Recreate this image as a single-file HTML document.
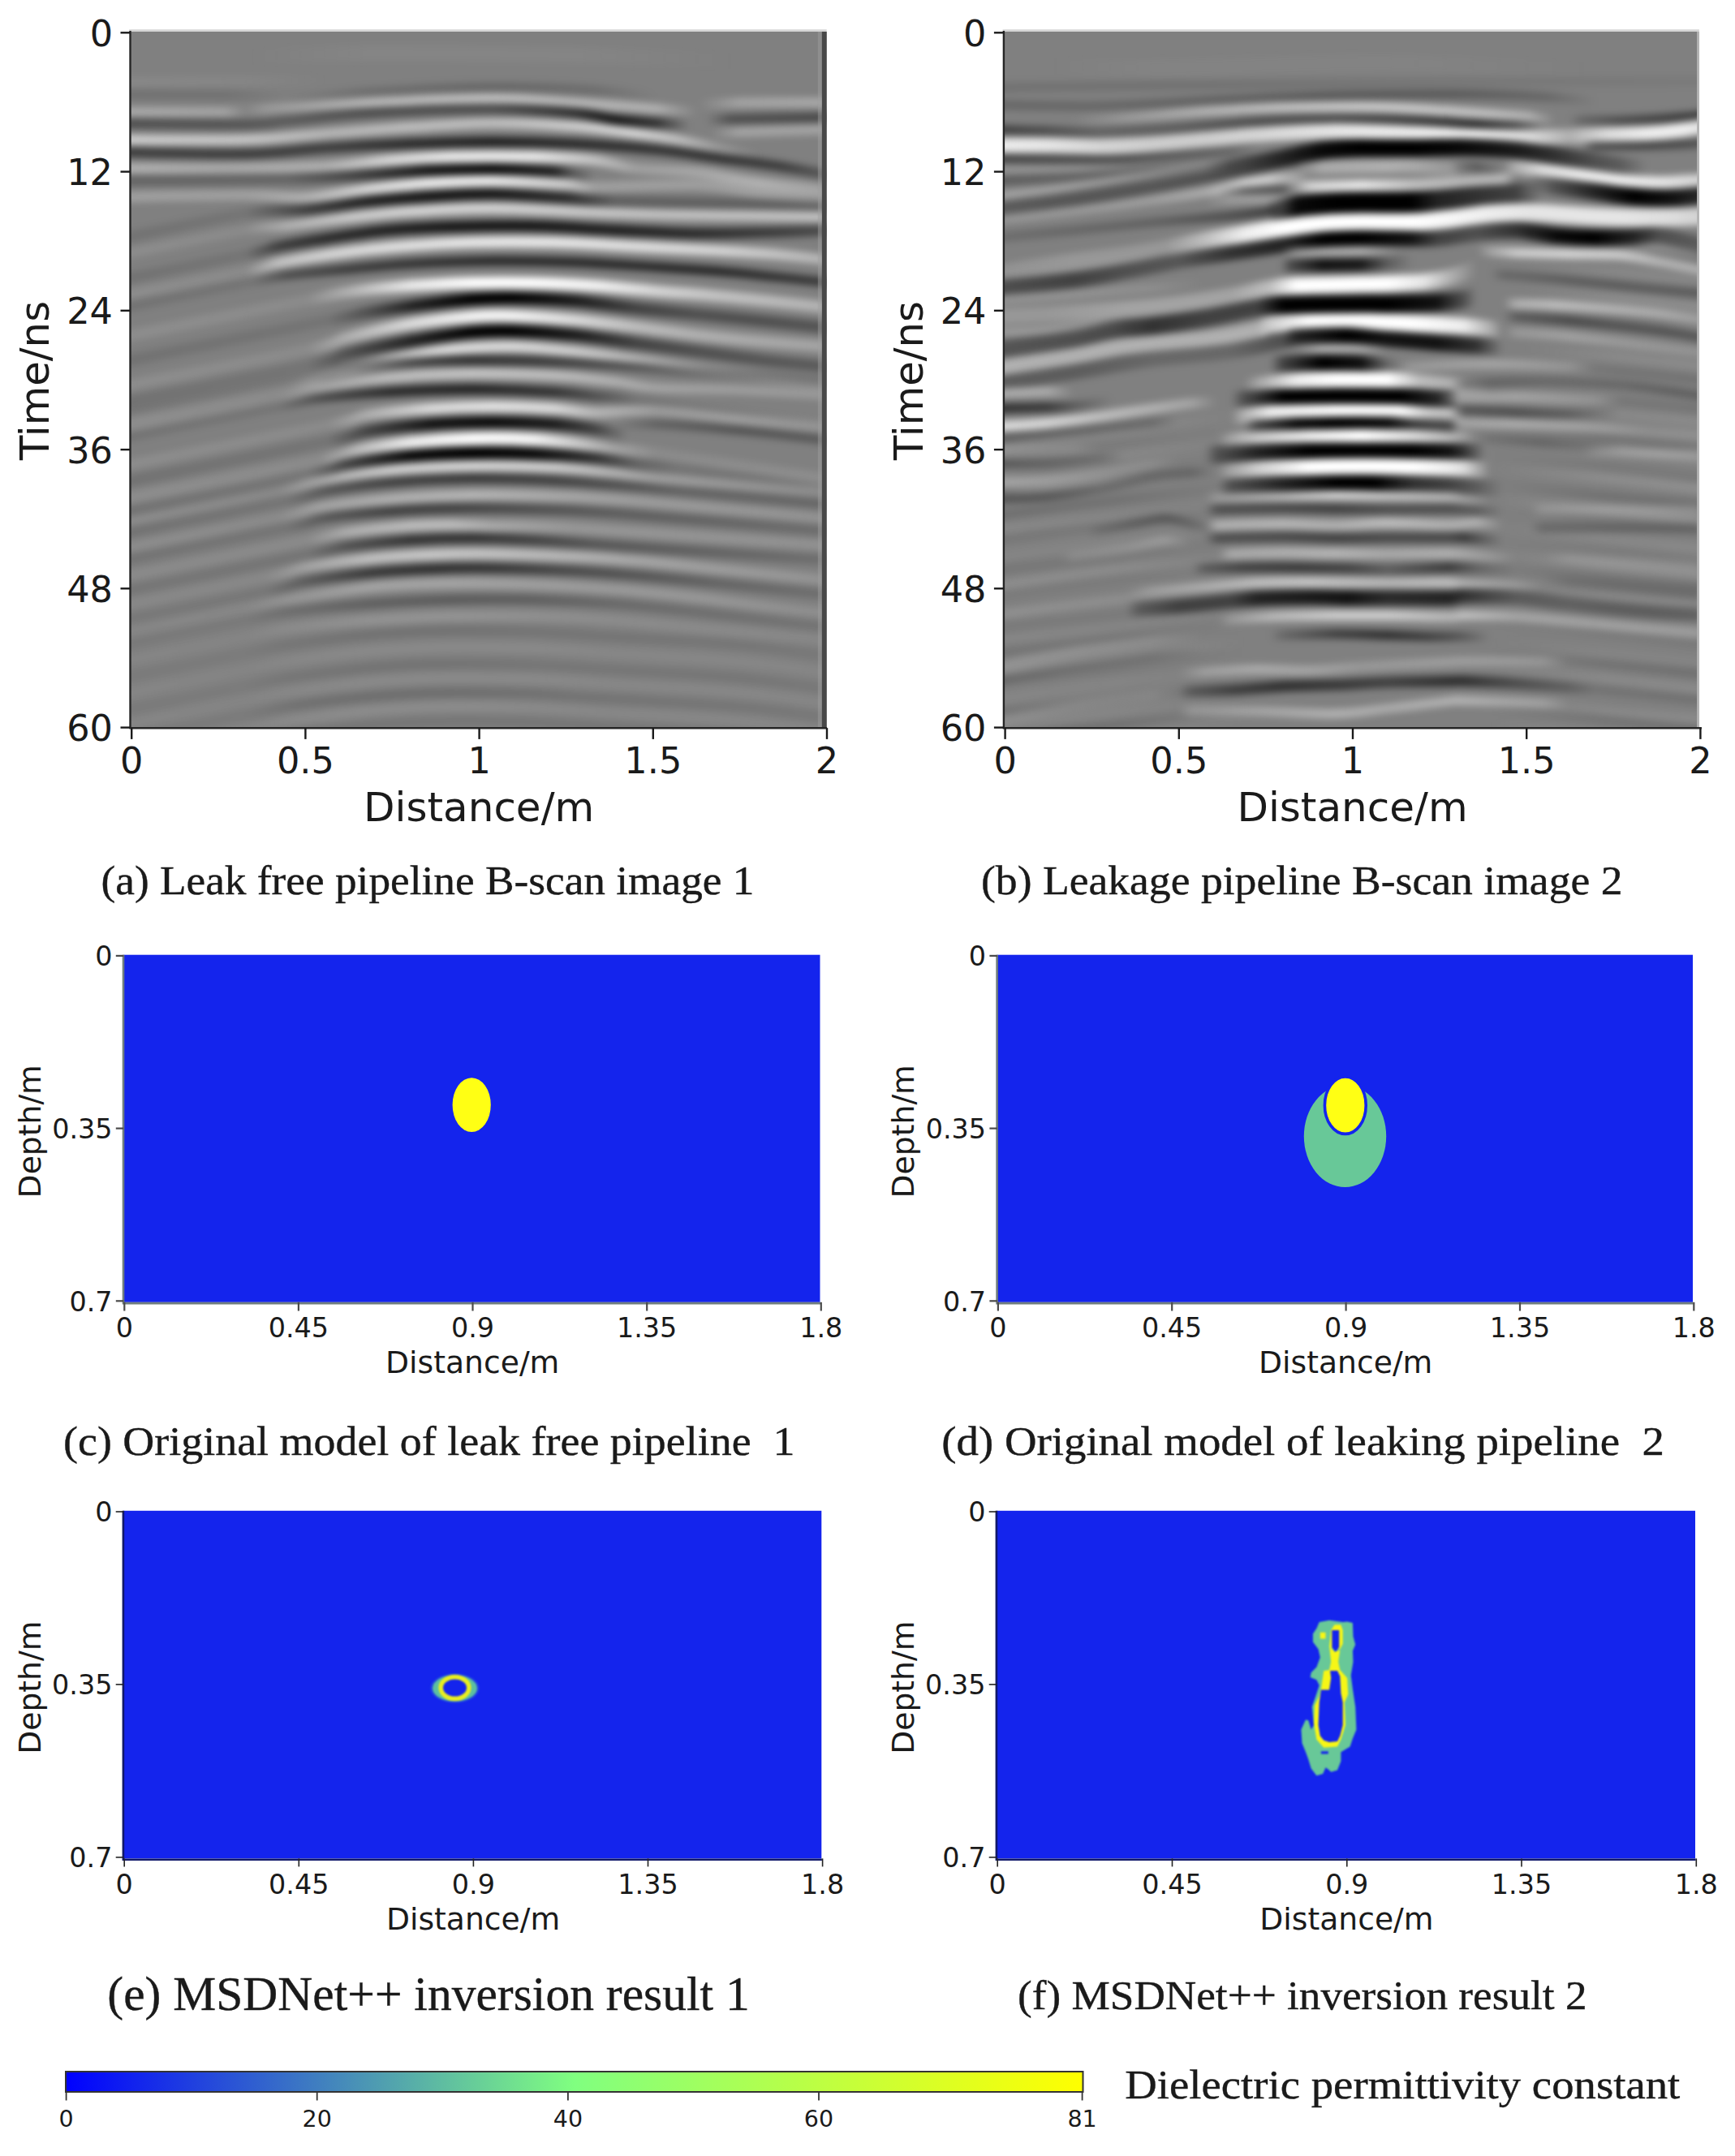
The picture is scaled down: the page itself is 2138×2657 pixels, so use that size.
<!DOCTYPE html>
<html><head><meta charset="utf-8"><title>Figure</title>
<style>html,body{margin:0;padding:0;background:#fff}svg{display:block}text{font-family:"DejaVu Sans", "Liberation Sans", sans-serif}text.s{font-family:"Liberation Serif", "DejaVu Serif", serif;stroke:#1a1a1a;stroke-width:.4px}.w stop{stop-color:#fff}</style></head>
<body>
<svg width="2138" height="2657" viewBox="0 0 2138 2657">
<defs><filter id="b1" x="-20%" y="-20%" width="140%" height="140%" color-interpolation-filters="sRGB"><feGaussianBlur stdDeviation="1.1"/></filter><filter id="bl" x="-5%" y="-5%" width="110%" height="110%" filterUnits="objectBoundingBox" color-interpolation-filters="sRGB"><feGaussianBlur stdDeviation="4.2"/></filter>
<linearGradient id="g1" gradientUnits="userSpaceOnUse" x1="-20.3" x2="243.4" y1="0" y2="0" class="w"><stop offset="0.000" stop-opacity="0.07"/><stop offset="0.615" stop-opacity="0.05"/><stop offset="1.000" stop-opacity="0.00"/></linearGradient>
<linearGradient id="g2" gradientUnits="userSpaceOnUse" x1="-20.3" x2="192.7" y1="0" y2="0"><stop offset="0.000" stop-opacity="0.11"/><stop offset="0.643" stop-opacity="0.11"/><stop offset="1.000" stop-opacity="0.00"/></linearGradient>
<linearGradient id="g3" gradientUnits="userSpaceOnUse" x1="142" x2="750.6" y1="0" y2="0" class="w"><stop offset="0.000" stop-opacity="0.00"/><stop offset="0.250" stop-opacity="0.04"/><stop offset="0.667" stop-opacity="0.04"/><stop offset="1.000" stop-opacity="0.00"/></linearGradient>
<linearGradient id="g4" gradientUnits="userSpaceOnUse" x1="182.5" x2="649.2" y1="0" y2="0"><stop offset="0.000" stop-opacity="0.00"/><stop offset="0.239" stop-opacity="0.14"/><stop offset="0.565" stop-opacity="0.19"/><stop offset="0.837" stop-opacity="0.14"/><stop offset="1.000" stop-opacity="0.00"/></linearGradient>
<linearGradient id="g5" gradientUnits="userSpaceOnUse" x1="-20.3" x2="699.9" y1="0" y2="0" class="w"><stop offset="0.000" stop-opacity="0.33"/><stop offset="0.190" stop-opacity="0.28"/><stop offset="0.225" stop-opacity="0.04"/><stop offset="0.261" stop-opacity="0.19"/><stop offset="0.437" stop-opacity="0.43"/><stop offset="0.648" stop-opacity="0.49"/><stop offset="0.789" stop-opacity="0.43"/><stop offset="0.930" stop-opacity="0.38"/><stop offset="1.000" stop-opacity="0.00"/></linearGradient>
<linearGradient id="g6" gradientUnits="userSpaceOnUse" x1="699.9" x2="872.3" y1="0" y2="0" class="w"><stop offset="0.000" stop-opacity="0.00"/><stop offset="0.294" stop-opacity="0.28"/><stop offset="1.000" stop-opacity="0.33"/></linearGradient>
<linearGradient id="g7" gradientUnits="userSpaceOnUse" x1="-20.3" x2="689.7" y1="0" y2="0"><stop offset="0.000" stop-opacity="0.38"/><stop offset="0.229" stop-opacity="0.33"/><stop offset="0.300" stop-opacity="0.28"/><stop offset="0.443" stop-opacity="0.38"/><stop offset="0.657" stop-opacity="0.38"/><stop offset="0.800" stop-opacity="0.61"/><stop offset="0.871" stop-opacity="0.80"/><stop offset="0.943" stop-opacity="0.61"/><stop offset="1.000" stop-opacity="0.00"/></linearGradient>
<linearGradient id="g8" gradientUnits="userSpaceOnUse" x1="710" x2="872.3" y1="0" y2="0"><stop offset="0.000" stop-opacity="0.00"/><stop offset="0.187" stop-opacity="0.38"/><stop offset="1.000" stop-opacity="0.43"/></linearGradient>
<linearGradient id="g9" gradientUnits="userSpaceOnUse" x1="-20.3" x2="776" y1="0" y2="0" class="w"><stop offset="0.000" stop-opacity="0.61"/><stop offset="0.204" stop-opacity="0.55"/><stop offset="0.331" stop-opacity="0.43"/><stop offset="0.459" stop-opacity="0.49"/><stop offset="0.586" stop-opacity="0.49"/><stop offset="0.713" stop-opacity="0.61"/><stop offset="0.809" stop-opacity="0.67"/><stop offset="0.873" stop-opacity="0.49"/><stop offset="0.936" stop-opacity="0.19"/><stop offset="1.000" stop-opacity="0.00"/></linearGradient>
<linearGradient id="g10" gradientUnits="userSpaceOnUse" x1="715.1" x2="872.3" y1="0" y2="0" class="w"><stop offset="0.000" stop-opacity="0.00"/><stop offset="0.226" stop-opacity="0.28"/><stop offset="1.000" stop-opacity="0.28"/></linearGradient>
<linearGradient id="g11" gradientUnits="userSpaceOnUse" x1="-20.3" x2="872.3" y1="0" y2="0"><stop offset="0.000" stop-opacity="0.52"/><stop offset="0.182" stop-opacity="0.52"/><stop offset="0.295" stop-opacity="0.52"/><stop offset="0.409" stop-opacity="0.67"/><stop offset="0.523" stop-opacity="0.75"/><stop offset="0.636" stop-opacity="0.67"/><stop offset="0.750" stop-opacity="0.59"/><stop offset="0.835" stop-opacity="0.59"/><stop offset="0.920" stop-opacity="0.52"/><stop offset="1.000" stop-opacity="0.25"/></linearGradient>
<linearGradient id="g12" gradientUnits="userSpaceOnUse" x1="-20.3" x2="872.3" y1="0" y2="0" class="w"><stop offset="0.000" stop-opacity="0.38"/><stop offset="0.153" stop-opacity="0.31"/><stop offset="0.295" stop-opacity="0.38"/><stop offset="0.381" stop-opacity="0.67"/><stop offset="0.466" stop-opacity="0.83"/><stop offset="0.580" stop-opacity="0.83"/><stop offset="0.665" stop-opacity="0.52"/><stop offset="0.722" stop-opacity="0.25"/><stop offset="0.807" stop-opacity="0.31"/><stop offset="0.892" stop-opacity="0.38"/><stop offset="1.000" stop-opacity="0.25"/></linearGradient>
<linearGradient id="g13" gradientUnits="userSpaceOnUse" x1="-20.3" x2="573.1" y1="0" y2="0"><stop offset="0.000" stop-opacity="0.21"/><stop offset="0.359" stop-opacity="0.21"/><stop offset="0.530" stop-opacity="0.54"/><stop offset="0.658" stop-opacity="0.81"/><stop offset="0.786" stop-opacity="0.89"/><stop offset="0.915" stop-opacity="0.74"/><stop offset="0.957" stop-opacity="0.31"/><stop offset="1.000" stop-opacity="0.00"/></linearGradient>
<linearGradient id="g14" gradientUnits="userSpaceOnUse" x1="-20.3" x2="872.3" y1="0" y2="0" class="w"><stop offset="0.000" stop-opacity="0.25"/><stop offset="0.182" stop-opacity="0.25"/><stop offset="0.267" stop-opacity="0.38"/><stop offset="0.352" stop-opacity="0.67"/><stop offset="0.438" stop-opacity="0.83"/><stop offset="0.523" stop-opacity="0.83"/><stop offset="0.625" stop-opacity="0.59"/><stop offset="0.665" stop-opacity="0.25"/><stop offset="0.807" stop-opacity="0.25"/><stop offset="0.892" stop-opacity="0.25"/><stop offset="1.000" stop-opacity="0.25"/></linearGradient>
<linearGradient id="g15" gradientUnits="userSpaceOnUse" x1="-15" x2="872.3" y1="0" y2="0"><stop offset="0.000" stop-opacity="0.11"/><stop offset="0.177" stop-opacity="0.09"/><stop offset="0.263" stop-opacity="0.52"/><stop offset="0.348" stop-opacity="0.75"/><stop offset="0.434" stop-opacity="0.83"/><stop offset="0.520" stop-opacity="0.83"/><stop offset="0.623" stop-opacity="0.67"/><stop offset="0.691" stop-opacity="0.25"/><stop offset="1.000" stop-opacity="0.25"/></linearGradient>
<linearGradient id="g16" gradientUnits="userSpaceOnUse" x1="-15" x2="872.3" y1="0" y2="0" class="w"><stop offset="0.000" stop-opacity="0.11"/><stop offset="0.177" stop-opacity="0.09"/><stop offset="0.234" stop-opacity="0.38"/><stop offset="0.320" stop-opacity="0.59"/><stop offset="0.406" stop-opacity="0.67"/><stop offset="0.520" stop-opacity="0.67"/><stop offset="0.634" stop-opacity="0.59"/><stop offset="0.748" stop-opacity="0.52"/><stop offset="0.863" stop-opacity="0.52"/><stop offset="1.000" stop-opacity="0.52"/></linearGradient>
<linearGradient id="g17" gradientUnits="userSpaceOnUse" x1="-15" x2="872.3" y1="0" y2="0"><stop offset="0.000" stop-opacity="0.11"/><stop offset="0.177" stop-opacity="0.09"/><stop offset="0.223" stop-opacity="0.52"/><stop offset="0.291" stop-opacity="0.67"/><stop offset="0.377" stop-opacity="0.75"/><stop offset="0.463" stop-opacity="0.83"/><stop offset="0.577" stop-opacity="0.83"/><stop offset="0.691" stop-opacity="0.75"/><stop offset="0.806" stop-opacity="0.67"/><stop offset="0.920" stop-opacity="0.52"/><stop offset="1.000" stop-opacity="0.38"/></linearGradient>
<linearGradient id="g18" gradientUnits="userSpaceOnUse" x1="-15" x2="872.3" y1="0" y2="0" class="w"><stop offset="0.000" stop-opacity="0.11"/><stop offset="0.177" stop-opacity="0.09"/><stop offset="0.223" stop-opacity="0.52"/><stop offset="0.291" stop-opacity="0.67"/><stop offset="0.377" stop-opacity="0.75"/><stop offset="0.491" stop-opacity="0.83"/><stop offset="0.606" stop-opacity="0.83"/><stop offset="0.720" stop-opacity="0.75"/><stop offset="0.834" stop-opacity="0.67"/><stop offset="0.920" stop-opacity="0.52"/><stop offset="1.000" stop-opacity="0.38"/></linearGradient>
<linearGradient id="g19" gradientUnits="userSpaceOnUse" x1="-15" x2="872.3" y1="0" y2="0"><stop offset="0.000" stop-opacity="0.11"/><stop offset="0.188" stop-opacity="0.09"/><stop offset="0.234" stop-opacity="0.38"/><stop offset="0.320" stop-opacity="0.52"/><stop offset="0.406" stop-opacity="0.59"/><stop offset="0.520" stop-opacity="0.67"/><stop offset="0.634" stop-opacity="0.67"/><stop offset="0.748" stop-opacity="0.67"/><stop offset="0.834" stop-opacity="0.67"/><stop offset="0.920" stop-opacity="0.59"/><stop offset="1.000" stop-opacity="0.52"/></linearGradient>
<linearGradient id="g20" gradientUnits="userSpaceOnUse" x1="-15" x2="872.3" y1="0" y2="0" class="w"><stop offset="0.000" stop-opacity="0.11"/><stop offset="0.263" stop-opacity="0.09"/><stop offset="0.320" stop-opacity="0.38"/><stop offset="0.406" stop-opacity="0.83"/><stop offset="0.491" stop-opacity="1.00"/><stop offset="0.577" stop-opacity="1.00"/><stop offset="0.663" stop-opacity="0.91"/><stop offset="0.748" stop-opacity="0.67"/><stop offset="0.834" stop-opacity="0.52"/><stop offset="0.920" stop-opacity="0.45"/><stop offset="1.000" stop-opacity="0.38"/></linearGradient>
<linearGradient id="g21" gradientUnits="userSpaceOnUse" x1="-15" x2="872.3" y1="0" y2="0"><stop offset="0.000" stop-opacity="0.11"/><stop offset="0.291" stop-opacity="0.09"/><stop offset="0.348" stop-opacity="0.38"/><stop offset="0.406" stop-opacity="0.73"/><stop offset="0.491" stop-opacity="1.00"/><stop offset="0.548" stop-opacity="1.00"/><stop offset="0.634" stop-opacity="0.80"/><stop offset="0.720" stop-opacity="0.49"/><stop offset="0.806" stop-opacity="0.38"/><stop offset="0.891" stop-opacity="0.38"/><stop offset="1.000" stop-opacity="0.33"/></linearGradient>
<linearGradient id="g22" gradientUnits="userSpaceOnUse" x1="-15" x2="872.3" y1="0" y2="0" class="w"><stop offset="0.000" stop-opacity="0.11"/><stop offset="0.263" stop-opacity="0.09"/><stop offset="0.320" stop-opacity="0.38"/><stop offset="0.406" stop-opacity="0.73"/><stop offset="0.491" stop-opacity="0.93"/><stop offset="0.548" stop-opacity="0.93"/><stop offset="0.634" stop-opacity="0.73"/><stop offset="0.720" stop-opacity="0.49"/><stop offset="0.806" stop-opacity="0.38"/><stop offset="0.891" stop-opacity="0.33"/><stop offset="1.000" stop-opacity="0.28"/></linearGradient>
<linearGradient id="g23" gradientUnits="userSpaceOnUse" x1="-15" x2="872.3" y1="0" y2="0"><stop offset="0.000" stop-opacity="0.11"/><stop offset="0.263" stop-opacity="0.09"/><stop offset="0.320" stop-opacity="0.38"/><stop offset="0.406" stop-opacity="0.73"/><stop offset="0.491" stop-opacity="1.00"/><stop offset="0.548" stop-opacity="1.00"/><stop offset="0.634" stop-opacity="0.80"/><stop offset="0.720" stop-opacity="0.49"/><stop offset="0.806" stop-opacity="0.38"/><stop offset="0.891" stop-opacity="0.33"/><stop offset="1.000" stop-opacity="0.28"/></linearGradient>
<linearGradient id="g24" gradientUnits="userSpaceOnUse" x1="-15" x2="872.3" y1="0" y2="0" class="w"><stop offset="0.000" stop-opacity="0.11"/><stop offset="0.234" stop-opacity="0.09"/><stop offset="0.291" stop-opacity="0.28"/><stop offset="0.377" stop-opacity="0.55"/><stop offset="0.463" stop-opacity="0.73"/><stop offset="0.548" stop-opacity="0.73"/><stop offset="0.634" stop-opacity="0.61"/><stop offset="0.720" stop-opacity="0.43"/><stop offset="0.806" stop-opacity="0.33"/><stop offset="0.863" stop-opacity="0.28"/><stop offset="1.000" stop-opacity="0.19"/></linearGradient>
<linearGradient id="g25" gradientUnits="userSpaceOnUse" x1="-15" x2="872.3" y1="0" y2="0"><stop offset="0.000" stop-opacity="0.11"/><stop offset="0.263" stop-opacity="0.09"/><stop offset="0.320" stop-opacity="0.28"/><stop offset="0.406" stop-opacity="0.49"/><stop offset="0.491" stop-opacity="0.61"/><stop offset="0.577" stop-opacity="0.55"/><stop offset="0.691" stop-opacity="0.38"/><stop offset="0.806" stop-opacity="0.28"/><stop offset="0.920" stop-opacity="0.23"/><stop offset="1.000" stop-opacity="0.19"/></linearGradient>
<linearGradient id="g26" gradientUnits="userSpaceOnUse" x1="-15" x2="872.3" y1="0" y2="0" class="w"><stop offset="0.000" stop-opacity="0.11"/><stop offset="0.223" stop-opacity="0.09"/><stop offset="0.280" stop-opacity="0.28"/><stop offset="0.377" stop-opacity="0.49"/><stop offset="0.491" stop-opacity="0.55"/><stop offset="0.606" stop-opacity="0.49"/><stop offset="0.691" stop-opacity="0.38"/><stop offset="0.748" stop-opacity="0.28"/><stop offset="0.863" stop-opacity="0.23"/><stop offset="1.000" stop-opacity="0.19"/></linearGradient>
<linearGradient id="g27" gradientUnits="userSpaceOnUse" x1="-15" x2="875" y1="0" y2="0"><stop offset="0.000" stop-opacity="0.11"/><stop offset="0.222" stop-opacity="0.09"/><stop offset="0.279" stop-opacity="0.38"/><stop offset="0.376" stop-opacity="0.67"/><stop offset="0.490" stop-opacity="0.73"/><stop offset="0.604" stop-opacity="0.61"/><stop offset="0.661" stop-opacity="0.38"/><stop offset="0.718" stop-opacity="0.09"/><stop offset="1.000" stop-opacity="0.11"/></linearGradient>
<linearGradient id="g28" gradientUnits="userSpaceOnUse" x1="-15" x2="872.3" y1="0" y2="0" class="w"><stop offset="0.000" stop-opacity="0.11"/><stop offset="0.291" stop-opacity="0.09"/><stop offset="0.348" stop-opacity="0.38"/><stop offset="0.434" stop-opacity="0.73"/><stop offset="0.520" stop-opacity="0.80"/><stop offset="0.606" stop-opacity="0.73"/><stop offset="0.663" stop-opacity="0.43"/><stop offset="0.748" stop-opacity="0.23"/><stop offset="0.863" stop-opacity="0.28"/><stop offset="1.000" stop-opacity="0.23"/></linearGradient>
<linearGradient id="g29" gradientUnits="userSpaceOnUse" x1="-15" x2="613.7" y1="0" y2="0"><stop offset="0.000" stop-opacity="0.11"/><stop offset="0.411" stop-opacity="0.09"/><stop offset="0.492" stop-opacity="0.49"/><stop offset="0.613" stop-opacity="0.86"/><stop offset="0.734" stop-opacity="0.93"/><stop offset="0.855" stop-opacity="0.80"/><stop offset="0.935" stop-opacity="0.49"/><stop offset="1.000" stop-opacity="0.00"/></linearGradient>
<linearGradient id="g30" gradientUnits="userSpaceOnUse" x1="598.4" x2="872.3" y1="0" y2="0"><stop offset="0.000" stop-opacity="0.00"/><stop offset="0.185" stop-opacity="0.23"/><stop offset="0.556" stop-opacity="0.33"/><stop offset="1.000" stop-opacity="0.28"/></linearGradient>
<linearGradient id="g31" gradientUnits="userSpaceOnUse" x1="-15" x2="875" y1="0" y2="0" class="w"><stop offset="0.000" stop-opacity="0.11"/><stop offset="0.279" stop-opacity="0.09"/><stop offset="0.336" stop-opacity="0.49"/><stop offset="0.404" stop-opacity="0.86"/><stop offset="0.490" stop-opacity="1.00"/><stop offset="0.575" stop-opacity="0.93"/><stop offset="0.632" stop-opacity="0.61"/><stop offset="0.689" stop-opacity="0.28"/><stop offset="0.746" stop-opacity="0.09"/><stop offset="1.000" stop-opacity="0.11"/></linearGradient>
<linearGradient id="g32" gradientUnits="userSpaceOnUse" x1="-15" x2="875" y1="0" y2="0"><stop offset="0.000" stop-opacity="0.11"/><stop offset="0.262" stop-opacity="0.09"/><stop offset="0.319" stop-opacity="0.49"/><stop offset="0.404" stop-opacity="0.93"/><stop offset="0.490" stop-opacity="1.00"/><stop offset="0.575" stop-opacity="0.93"/><stop offset="0.661" stop-opacity="0.61"/><stop offset="0.718" stop-opacity="0.23"/><stop offset="0.775" stop-opacity="0.09"/><stop offset="1.000" stop-opacity="0.11"/></linearGradient>
<linearGradient id="g33" gradientUnits="userSpaceOnUse" x1="-15" x2="872.3" y1="0" y2="0" class="w"><stop offset="0.000" stop-opacity="0.11"/><stop offset="0.223" stop-opacity="0.09"/><stop offset="0.280" stop-opacity="0.33"/><stop offset="0.377" stop-opacity="0.61"/><stop offset="0.491" stop-opacity="0.67"/><stop offset="0.606" stop-opacity="0.61"/><stop offset="0.691" stop-opacity="0.38"/><stop offset="0.748" stop-opacity="0.23"/><stop offset="0.863" stop-opacity="0.19"/><stop offset="1.000" stop-opacity="0.19"/></linearGradient>
<linearGradient id="g34" gradientUnits="userSpaceOnUse" x1="-15" x2="872.3" y1="0" y2="0"><stop offset="0.000" stop-opacity="0.11"/><stop offset="0.234" stop-opacity="0.09"/><stop offset="0.291" stop-opacity="0.33"/><stop offset="0.377" stop-opacity="0.49"/><stop offset="0.491" stop-opacity="0.55"/><stop offset="0.606" stop-opacity="0.49"/><stop offset="0.720" stop-opacity="0.33"/><stop offset="0.777" stop-opacity="0.23"/><stop offset="1.000" stop-opacity="0.19"/></linearGradient>
<linearGradient id="g35" gradientUnits="userSpaceOnUse" x1="-15" x2="872.3" y1="0" y2="0" class="w"><stop offset="0.000" stop-opacity="0.11"/><stop offset="0.223" stop-opacity="0.09"/><stop offset="0.280" stop-opacity="0.28"/><stop offset="0.377" stop-opacity="0.38"/><stop offset="0.491" stop-opacity="0.43"/><stop offset="0.606" stop-opacity="0.33"/><stop offset="0.720" stop-opacity="0.23"/><stop offset="1.000" stop-opacity="0.14"/></linearGradient>
<linearGradient id="g36" gradientUnits="userSpaceOnUse" x1="-15" x2="872.3" y1="0" y2="0"><stop offset="0.000" stop-opacity="0.10"/><stop offset="0.234" stop-opacity="0.09"/><stop offset="0.291" stop-opacity="0.33"/><stop offset="0.377" stop-opacity="0.49"/><stop offset="0.463" stop-opacity="0.49"/><stop offset="0.577" stop-opacity="0.38"/><stop offset="0.691" stop-opacity="0.28"/><stop offset="1.000" stop-opacity="0.14"/></linearGradient>
<linearGradient id="g37" gradientUnits="userSpaceOnUse" x1="-15" x2="872.3" y1="0" y2="0" class="w"><stop offset="0.000" stop-opacity="0.09"/><stop offset="0.263" stop-opacity="0.09"/><stop offset="0.320" stop-opacity="0.38"/><stop offset="0.406" stop-opacity="0.49"/><stop offset="0.463" stop-opacity="0.49"/><stop offset="0.520" stop-opacity="0.33"/><stop offset="0.634" stop-opacity="0.19"/><stop offset="1.000" stop-opacity="0.14"/></linearGradient>
<linearGradient id="g38" gradientUnits="userSpaceOnUse" x1="-15" x2="872.3" y1="0" y2="0"><stop offset="0.000" stop-opacity="0.08"/><stop offset="0.263" stop-opacity="0.09"/><stop offset="0.320" stop-opacity="0.38"/><stop offset="0.406" stop-opacity="0.61"/><stop offset="0.491" stop-opacity="0.61"/><stop offset="0.577" stop-opacity="0.49"/><stop offset="0.663" stop-opacity="0.33"/><stop offset="1.000" stop-opacity="0.13"/></linearGradient>
<linearGradient id="g39" gradientUnits="userSpaceOnUse" x1="-15" x2="872.3" y1="0" y2="0" class="w"><stop offset="0.000" stop-opacity="0.07"/><stop offset="0.205" stop-opacity="0.07"/><stop offset="0.263" stop-opacity="0.29"/><stop offset="0.348" stop-opacity="0.52"/><stop offset="0.434" stop-opacity="0.59"/><stop offset="0.520" stop-opacity="0.54"/><stop offset="0.634" stop-opacity="0.42"/><stop offset="0.720" stop-opacity="0.31"/><stop offset="0.806" stop-opacity="0.25"/><stop offset="1.000" stop-opacity="0.15"/></linearGradient>
<linearGradient id="g40" gradientUnits="userSpaceOnUse" x1="-15" x2="872.3" y1="0" y2="0"><stop offset="0.000" stop-opacity="0.06"/><stop offset="0.205" stop-opacity="0.07"/><stop offset="0.263" stop-opacity="0.30"/><stop offset="0.348" stop-opacity="0.57"/><stop offset="0.434" stop-opacity="0.64"/><stop offset="0.520" stop-opacity="0.59"/><stop offset="0.634" stop-opacity="0.42"/><stop offset="0.748" stop-opacity="0.31"/><stop offset="0.834" stop-opacity="0.22"/><stop offset="1.000" stop-opacity="0.13"/></linearGradient>
<linearGradient id="g41" gradientUnits="userSpaceOnUse" x1="-15" x2="872.3" y1="0" y2="0" class="w"><stop offset="0.000" stop-opacity="0.05"/><stop offset="0.177" stop-opacity="0.06"/><stop offset="0.234" stop-opacity="0.16"/><stop offset="0.348" stop-opacity="0.29"/><stop offset="0.463" stop-opacity="0.30"/><stop offset="0.577" stop-opacity="0.25"/><stop offset="0.691" stop-opacity="0.21"/><stop offset="0.806" stop-opacity="0.19"/><stop offset="0.920" stop-opacity="0.14"/><stop offset="1.000" stop-opacity="0.11"/></linearGradient>
<linearGradient id="g42" gradientUnits="userSpaceOnUse" x1="-15" x2="872.3" y1="0" y2="0"><stop offset="0.000" stop-opacity="0.05"/><stop offset="0.177" stop-opacity="0.05"/><stop offset="0.234" stop-opacity="0.14"/><stop offset="0.348" stop-opacity="0.25"/><stop offset="0.463" stop-opacity="0.29"/><stop offset="0.577" stop-opacity="0.26"/><stop offset="0.691" stop-opacity="0.18"/><stop offset="0.806" stop-opacity="0.14"/><stop offset="1.000" stop-opacity="0.09"/></linearGradient>
<linearGradient id="g43" gradientUnits="userSpaceOnUse" x1="-15" x2="872.3" y1="0" y2="0" class="w"><stop offset="0.000" stop-opacity="0.05"/><stop offset="0.177" stop-opacity="0.04"/><stop offset="0.234" stop-opacity="0.09"/><stop offset="0.348" stop-opacity="0.15"/><stop offset="0.463" stop-opacity="0.16"/><stop offset="0.577" stop-opacity="0.13"/><stop offset="0.691" stop-opacity="0.10"/><stop offset="1.000" stop-opacity="0.06"/></linearGradient>
<linearGradient id="g44" gradientUnits="userSpaceOnUse" x1="-15" x2="872.3" y1="0" y2="0"><stop offset="0.000" stop-opacity="0.05"/><stop offset="0.177" stop-opacity="0.04"/><stop offset="0.234" stop-opacity="0.08"/><stop offset="0.348" stop-opacity="0.11"/><stop offset="0.463" stop-opacity="0.11"/><stop offset="0.577" stop-opacity="0.09"/><stop offset="0.691" stop-opacity="0.09"/><stop offset="0.863" stop-opacity="0.08"/><stop offset="1.000" stop-opacity="0.06"/></linearGradient>
<linearGradient id="g45" gradientUnits="userSpaceOnUse" x1="-15" x2="872.3" y1="0" y2="0" class="w"><stop offset="0.000" stop-opacity="0.05"/><stop offset="0.177" stop-opacity="0.04"/><stop offset="0.234" stop-opacity="0.06"/><stop offset="0.348" stop-opacity="0.08"/><stop offset="0.463" stop-opacity="0.08"/><stop offset="0.577" stop-opacity="0.08"/><stop offset="0.691" stop-opacity="0.06"/><stop offset="0.863" stop-opacity="0.06"/><stop offset="1.000" stop-opacity="0.05"/></linearGradient>
<linearGradient id="g46" gradientUnits="userSpaceOnUse" x1="-15" x2="872.3" y1="0" y2="0"><stop offset="0.000" stop-opacity="0.05"/><stop offset="0.177" stop-opacity="0.04"/><stop offset="0.234" stop-opacity="0.08"/><stop offset="0.348" stop-opacity="0.10"/><stop offset="0.463" stop-opacity="0.10"/><stop offset="0.577" stop-opacity="0.08"/><stop offset="0.691" stop-opacity="0.08"/><stop offset="0.863" stop-opacity="0.08"/><stop offset="1.000" stop-opacity="0.06"/></linearGradient>
<linearGradient id="g47" gradientUnits="userSpaceOnUse" x1="-15" x2="872.3" y1="0" y2="0" class="w"><stop offset="0.000" stop-opacity="0.05"/><stop offset="0.177" stop-opacity="0.04"/><stop offset="0.234" stop-opacity="0.06"/><stop offset="0.348" stop-opacity="0.08"/><stop offset="0.463" stop-opacity="0.08"/><stop offset="0.577" stop-opacity="0.08"/><stop offset="0.691" stop-opacity="0.06"/><stop offset="0.863" stop-opacity="0.06"/><stop offset="1.000" stop-opacity="0.05"/></linearGradient>
<linearGradient id="g48" gradientUnits="userSpaceOnUse" x1="-15" x2="872.3" y1="0" y2="0"><stop offset="0.000" stop-opacity="0.05"/><stop offset="0.177" stop-opacity="0.04"/><stop offset="0.251" stop-opacity="0.12"/><stop offset="0.348" stop-opacity="0.14"/><stop offset="0.463" stop-opacity="0.14"/><stop offset="0.577" stop-opacity="0.12"/><stop offset="0.634" stop-opacity="0.10"/><stop offset="0.863" stop-opacity="0.08"/><stop offset="1.000" stop-opacity="0.06"/></linearGradient>
<linearGradient id="g49" gradientUnits="userSpaceOnUse" x1="-15" x2="872.3" y1="0" y2="0" class="w"><stop offset="0.000" stop-opacity="0.05"/><stop offset="0.177" stop-opacity="0.04"/><stop offset="0.234" stop-opacity="0.08"/><stop offset="0.348" stop-opacity="0.10"/><stop offset="0.463" stop-opacity="0.10"/><stop offset="0.577" stop-opacity="0.08"/><stop offset="0.691" stop-opacity="0.06"/><stop offset="0.863" stop-opacity="0.06"/><stop offset="1.000" stop-opacity="0.05"/></linearGradient>
<linearGradient id="g50" gradientUnits="userSpaceOnUse" x1="-15" x2="872.3" y1="0" y2="0"><stop offset="0.000" stop-opacity="0.05"/><stop offset="0.177" stop-opacity="0.04"/><stop offset="0.234" stop-opacity="0.08"/><stop offset="0.348" stop-opacity="0.08"/><stop offset="0.463" stop-opacity="0.08"/><stop offset="0.577" stop-opacity="0.08"/><stop offset="0.691" stop-opacity="0.08"/><stop offset="0.863" stop-opacity="0.08"/><stop offset="1.000" stop-opacity="0.06"/></linearGradient>
<linearGradient id="g51" gradientUnits="userSpaceOnUse" x1="-15" x2="300" y1="0" y2="0" class="w"><stop offset="0.000" stop-opacity="0.10"/><stop offset="0.492" stop-opacity="0.08"/><stop offset="1.000" stop-opacity="0.00"/></linearGradient>
<linearGradient id="g52" gradientUnits="userSpaceOnUse" x1="600" x2="875" y1="0" y2="0" class="w"><stop offset="0.000" stop-opacity="0.00"/><stop offset="0.509" stop-opacity="0.11"/><stop offset="1.000" stop-opacity="0.13"/></linearGradient>
<linearGradient id="g53" gradientUnits="userSpaceOnUse" x1="-15" x2="300" y1="0" y2="0"><stop offset="0.000" stop-opacity="0.04"/><stop offset="0.492" stop-opacity="0.04"/><stop offset="1.000" stop-opacity="0.00"/></linearGradient>
<linearGradient id="g54" gradientUnits="userSpaceOnUse" x1="600" x2="875" y1="0" y2="0"><stop offset="0.000" stop-opacity="0.00"/><stop offset="0.509" stop-opacity="0.08"/><stop offset="1.000" stop-opacity="0.10"/></linearGradient>
<linearGradient id="g55" gradientUnits="userSpaceOnUse" x1="-15" x2="300" y1="0" y2="0" class="w"><stop offset="0.000" stop-opacity="0.08"/><stop offset="0.492" stop-opacity="0.07"/><stop offset="1.000" stop-opacity="0.00"/></linearGradient>
<linearGradient id="g56" gradientUnits="userSpaceOnUse" x1="600" x2="875" y1="0" y2="0" class="w"><stop offset="0.000" stop-opacity="0.00"/><stop offset="0.509" stop-opacity="0.08"/><stop offset="1.000" stop-opacity="0.09"/></linearGradient>
<linearGradient id="g57" gradientUnits="userSpaceOnUse" x1="-15" x2="300" y1="0" y2="0"><stop offset="0.000" stop-opacity="0.06"/><stop offset="0.492" stop-opacity="0.06"/><stop offset="1.000" stop-opacity="0.00"/></linearGradient>
<linearGradient id="g58" gradientUnits="userSpaceOnUse" x1="600" x2="875" y1="0" y2="0"><stop offset="0.000" stop-opacity="0.00"/><stop offset="0.509" stop-opacity="0.05"/><stop offset="1.000" stop-opacity="0.05"/></linearGradient>
<linearGradient id="g59" gradientUnits="userSpaceOnUse" x1="-15" x2="300" y1="0" y2="0" class="w"><stop offset="0.000" stop-opacity="0.09"/><stop offset="0.492" stop-opacity="0.08"/><stop offset="1.000" stop-opacity="0.00"/></linearGradient>
<linearGradient id="g60" gradientUnits="userSpaceOnUse" x1="600" x2="875" y1="0" y2="0" class="w"><stop offset="0.000" stop-opacity="0.00"/><stop offset="0.509" stop-opacity="0.10"/><stop offset="1.000" stop-opacity="0.12"/></linearGradient>
<linearGradient id="g61" gradientUnits="userSpaceOnUse" x1="-15" x2="300" y1="0" y2="0"><stop offset="0.000" stop-opacity="0.13"/><stop offset="0.492" stop-opacity="0.11"/><stop offset="1.000" stop-opacity="0.00"/></linearGradient>
<linearGradient id="g62" gradientUnits="userSpaceOnUse" x1="600" x2="875" y1="0" y2="0"><stop offset="0.000" stop-opacity="0.00"/><stop offset="0.509" stop-opacity="0.11"/><stop offset="1.000" stop-opacity="0.13"/></linearGradient>
<linearGradient id="g63" gradientUnits="userSpaceOnUse" x1="-15" x2="300" y1="0" y2="0" class="w"><stop offset="0.000" stop-opacity="0.06"/><stop offset="0.492" stop-opacity="0.05"/><stop offset="1.000" stop-opacity="0.00"/></linearGradient>
<linearGradient id="g64" gradientUnits="userSpaceOnUse" x1="600" x2="875" y1="0" y2="0" class="w"><stop offset="0.000" stop-opacity="0.00"/><stop offset="0.509" stop-opacity="0.11"/><stop offset="1.000" stop-opacity="0.13"/></linearGradient>
<linearGradient id="g65" gradientUnits="userSpaceOnUse" x1="-15" x2="300" y1="0" y2="0"><stop offset="0.000" stop-opacity="0.07"/><stop offset="0.492" stop-opacity="0.06"/><stop offset="1.000" stop-opacity="0.00"/></linearGradient>
<linearGradient id="g66" gradientUnits="userSpaceOnUse" x1="600" x2="875" y1="0" y2="0"><stop offset="0.000" stop-opacity="0.00"/><stop offset="0.509" stop-opacity="0.04"/><stop offset="1.000" stop-opacity="0.05"/></linearGradient>
<linearGradient id="g67" gradientUnits="userSpaceOnUse" x1="-15" x2="300" y1="0" y2="0" class="w"><stop offset="0.000" stop-opacity="0.04"/><stop offset="0.492" stop-opacity="0.04"/><stop offset="1.000" stop-opacity="0.00"/></linearGradient>
<linearGradient id="g68" gradientUnits="userSpaceOnUse" x1="600" x2="875" y1="0" y2="0" class="w"><stop offset="0.000" stop-opacity="0.00"/><stop offset="0.509" stop-opacity="0.06"/><stop offset="1.000" stop-opacity="0.07"/></linearGradient>
<linearGradient id="g69" gradientUnits="userSpaceOnUse" x1="-15" x2="300" y1="0" y2="0"><stop offset="0.000" stop-opacity="0.07"/><stop offset="0.492" stop-opacity="0.06"/><stop offset="1.000" stop-opacity="0.00"/></linearGradient>
<linearGradient id="g70" gradientUnits="userSpaceOnUse" x1="600" x2="875" y1="0" y2="0"><stop offset="0.000" stop-opacity="0.00"/><stop offset="0.509" stop-opacity="0.04"/><stop offset="1.000" stop-opacity="0.05"/></linearGradient>
<linearGradient id="g71" gradientUnits="userSpaceOnUse" x1="-15" x2="300" y1="0" y2="0" class="w"><stop offset="0.000" stop-opacity="0.11"/><stop offset="0.492" stop-opacity="0.09"/><stop offset="1.000" stop-opacity="0.00"/></linearGradient>
<linearGradient id="g72" gradientUnits="userSpaceOnUse" x1="600" x2="875" y1="0" y2="0" class="w"><stop offset="0.000" stop-opacity="0.00"/><stop offset="0.509" stop-opacity="0.10"/><stop offset="1.000" stop-opacity="0.11"/></linearGradient>
<linearGradient id="g73" gradientUnits="userSpaceOnUse" x1="-15" x2="300" y1="0" y2="0"><stop offset="0.000" stop-opacity="0.04"/><stop offset="0.492" stop-opacity="0.04"/><stop offset="1.000" stop-opacity="0.00"/></linearGradient>
<linearGradient id="g74" gradientUnits="userSpaceOnUse" x1="600" x2="875" y1="0" y2="0"><stop offset="0.000" stop-opacity="0.00"/><stop offset="0.509" stop-opacity="0.11"/><stop offset="1.000" stop-opacity="0.13"/></linearGradient>
<linearGradient id="g75" gradientUnits="userSpaceOnUse" x1="-15" x2="300" y1="0" y2="0" class="w"><stop offset="0.000" stop-opacity="0.13"/><stop offset="0.492" stop-opacity="0.11"/><stop offset="1.000" stop-opacity="0.00"/></linearGradient>
<linearGradient id="g76" gradientUnits="userSpaceOnUse" x1="600" x2="875" y1="0" y2="0" class="w"><stop offset="0.000" stop-opacity="0.00"/><stop offset="0.509" stop-opacity="0.06"/><stop offset="1.000" stop-opacity="0.07"/></linearGradient>
<linearGradient id="g77" gradientUnits="userSpaceOnUse" x1="-15" x2="300" y1="0" y2="0"><stop offset="0.000" stop-opacity="0.05"/><stop offset="0.492" stop-opacity="0.04"/><stop offset="1.000" stop-opacity="0.00"/></linearGradient>
<linearGradient id="g78" gradientUnits="userSpaceOnUse" x1="600" x2="875" y1="0" y2="0"><stop offset="0.000" stop-opacity="0.00"/><stop offset="0.509" stop-opacity="0.10"/><stop offset="1.000" stop-opacity="0.12"/></linearGradient>
<linearGradient id="g79" gradientUnits="userSpaceOnUse" x1="-15" x2="300" y1="0" y2="0" class="w"><stop offset="0.000" stop-opacity="0.05"/><stop offset="0.492" stop-opacity="0.04"/><stop offset="1.000" stop-opacity="0.00"/></linearGradient>
<linearGradient id="g80" gradientUnits="userSpaceOnUse" x1="600" x2="875" y1="0" y2="0" class="w"><stop offset="0.000" stop-opacity="0.00"/><stop offset="0.509" stop-opacity="0.11"/><stop offset="1.000" stop-opacity="0.13"/></linearGradient>
<linearGradient id="g81" gradientUnits="userSpaceOnUse" x1="-15" x2="300" y1="0" y2="0"><stop offset="0.000" stop-opacity="0.09"/><stop offset="0.492" stop-opacity="0.08"/><stop offset="1.000" stop-opacity="0.00"/></linearGradient>
<linearGradient id="g82" gradientUnits="userSpaceOnUse" x1="600" x2="875" y1="0" y2="0"><stop offset="0.000" stop-opacity="0.00"/><stop offset="0.509" stop-opacity="0.05"/><stop offset="1.000" stop-opacity="0.06"/></linearGradient>
<linearGradient id="g83" gradientUnits="userSpaceOnUse" x1="-15" x2="300" y1="0" y2="0" class="w"><stop offset="0.000" stop-opacity="0.10"/><stop offset="0.492" stop-opacity="0.09"/><stop offset="1.000" stop-opacity="0.00"/></linearGradient>
<linearGradient id="g84" gradientUnits="userSpaceOnUse" x1="600" x2="875" y1="0" y2="0" class="w"><stop offset="0.000" stop-opacity="0.00"/><stop offset="0.509" stop-opacity="0.04"/><stop offset="1.000" stop-opacity="0.04"/></linearGradient>
<linearGradient id="g85" gradientUnits="userSpaceOnUse" x1="-15" x2="300" y1="0" y2="0"><stop offset="0.000" stop-opacity="0.07"/><stop offset="0.492" stop-opacity="0.06"/><stop offset="1.000" stop-opacity="0.00"/></linearGradient>
<linearGradient id="g86" gradientUnits="userSpaceOnUse" x1="600" x2="875" y1="0" y2="0"><stop offset="0.000" stop-opacity="0.00"/><stop offset="0.509" stop-opacity="0.10"/><stop offset="1.000" stop-opacity="0.12"/></linearGradient>
<linearGradient id="g87" gradientUnits="userSpaceOnUse" x1="-15" x2="300" y1="0" y2="0" class="w"><stop offset="0.000" stop-opacity="0.05"/><stop offset="0.492" stop-opacity="0.04"/><stop offset="1.000" stop-opacity="0.00"/></linearGradient>
<linearGradient id="g88" gradientUnits="userSpaceOnUse" x1="600" x2="875" y1="0" y2="0" class="w"><stop offset="0.000" stop-opacity="0.00"/><stop offset="0.509" stop-opacity="0.07"/><stop offset="1.000" stop-opacity="0.08"/></linearGradient>
<linearGradient id="g89" gradientUnits="userSpaceOnUse" x1="-15" x2="300" y1="0" y2="0"><stop offset="0.000" stop-opacity="0.11"/><stop offset="0.492" stop-opacity="0.09"/><stop offset="1.000" stop-opacity="0.00"/></linearGradient>
<linearGradient id="g90" gradientUnits="userSpaceOnUse" x1="600" x2="875" y1="0" y2="0"><stop offset="0.000" stop-opacity="0.00"/><stop offset="0.509" stop-opacity="0.10"/><stop offset="1.000" stop-opacity="0.11"/></linearGradient>
<linearGradient id="g91" gradientUnits="userSpaceOnUse" x1="-15" x2="300" y1="0" y2="0" class="w"><stop offset="0.000" stop-opacity="0.05"/><stop offset="0.492" stop-opacity="0.05"/><stop offset="1.000" stop-opacity="0.00"/></linearGradient>
<linearGradient id="g92" gradientUnits="userSpaceOnUse" x1="600" x2="875" y1="0" y2="0" class="w"><stop offset="0.000" stop-opacity="0.00"/><stop offset="0.509" stop-opacity="0.07"/><stop offset="1.000" stop-opacity="0.08"/></linearGradient>
<linearGradient id="g93" gradientUnits="userSpaceOnUse" x1="-15" x2="300" y1="0" y2="0"><stop offset="0.000" stop-opacity="0.13"/><stop offset="0.492" stop-opacity="0.11"/><stop offset="1.000" stop-opacity="0.00"/></linearGradient>
<linearGradient id="g94" gradientUnits="userSpaceOnUse" x1="600" x2="875" y1="0" y2="0"><stop offset="0.000" stop-opacity="0.00"/><stop offset="0.509" stop-opacity="0.09"/><stop offset="1.000" stop-opacity="0.11"/></linearGradient>
<linearGradient id="g95" gradientUnits="userSpaceOnUse" x1="-15" x2="300" y1="0" y2="0" class="w"><stop offset="0.000" stop-opacity="0.07"/><stop offset="0.492" stop-opacity="0.06"/><stop offset="1.000" stop-opacity="0.00"/></linearGradient>
<linearGradient id="g96" gradientUnits="userSpaceOnUse" x1="600" x2="875" y1="0" y2="0" class="w"><stop offset="0.000" stop-opacity="0.00"/><stop offset="0.509" stop-opacity="0.11"/><stop offset="1.000" stop-opacity="0.13"/></linearGradient>
<linearGradient id="g97" gradientUnits="userSpaceOnUse" x1="640" x2="875" y1="0" y2="0" class="w"><stop offset="0.000" stop-opacity="0.00"/><stop offset="0.511" stop-opacity="0.07"/><stop offset="1.000" stop-opacity="0.08"/></linearGradient>
<linearGradient id="g98" gradientUnits="userSpaceOnUse" x1="640" x2="875" y1="0" y2="0"><stop offset="0.000" stop-opacity="0.00"/><stop offset="0.511" stop-opacity="0.06"/><stop offset="1.000" stop-opacity="0.07"/></linearGradient>
<linearGradient id="g99" gradientUnits="userSpaceOnUse" x1="640" x2="875" y1="0" y2="0" class="w"><stop offset="0.000" stop-opacity="0.00"/><stop offset="0.511" stop-opacity="0.06"/><stop offset="1.000" stop-opacity="0.06"/></linearGradient>
<linearGradient id="g100" gradientUnits="userSpaceOnUse" x1="640" x2="875" y1="0" y2="0"><stop offset="0.000" stop-opacity="0.00"/><stop offset="0.511" stop-opacity="0.09"/><stop offset="1.000" stop-opacity="0.11"/></linearGradient>
<linearGradient id="g101" gradientUnits="userSpaceOnUse" x1="640" x2="875" y1="0" y2="0" class="w"><stop offset="0.000" stop-opacity="0.00"/><stop offset="0.511" stop-opacity="0.09"/><stop offset="1.000" stop-opacity="0.10"/></linearGradient>
<linearGradient id="g102" gradientUnits="userSpaceOnUse" x1="640" x2="875" y1="0" y2="0"><stop offset="0.000" stop-opacity="0.00"/><stop offset="0.511" stop-opacity="0.08"/><stop offset="1.000" stop-opacity="0.10"/></linearGradient>
<linearGradient id="g103" gradientUnits="userSpaceOnUse" x1="640" x2="875" y1="0" y2="0" class="w"><stop offset="0.000" stop-opacity="0.00"/><stop offset="0.511" stop-opacity="0.06"/><stop offset="1.000" stop-opacity="0.07"/></linearGradient>
<linearGradient id="g104" gradientUnits="userSpaceOnUse" x1="640" x2="875" y1="0" y2="0"><stop offset="0.000" stop-opacity="0.00"/><stop offset="0.511" stop-opacity="0.06"/><stop offset="1.000" stop-opacity="0.06"/></linearGradient>
<linearGradient id="g105" gradientUnits="userSpaceOnUse" x1="640" x2="875" y1="0" y2="0" class="w"><stop offset="0.000" stop-opacity="0.00"/><stop offset="0.511" stop-opacity="0.08"/><stop offset="1.000" stop-opacity="0.09"/></linearGradient>
<linearGradient id="g106" gradientUnits="userSpaceOnUse" x1="640" x2="875" y1="0" y2="0"><stop offset="0.000" stop-opacity="0.00"/><stop offset="0.511" stop-opacity="0.09"/><stop offset="1.000" stop-opacity="0.10"/></linearGradient>
<linearGradient id="g107" gradientUnits="userSpaceOnUse" x1="640" x2="875" y1="0" y2="0" class="w"><stop offset="0.000" stop-opacity="0.00"/><stop offset="0.511" stop-opacity="0.06"/><stop offset="1.000" stop-opacity="0.06"/></linearGradient>
<linearGradient id="g108" gradientUnits="userSpaceOnUse" x1="640" x2="875" y1="0" y2="0"><stop offset="0.000" stop-opacity="0.00"/><stop offset="0.511" stop-opacity="0.07"/><stop offset="1.000" stop-opacity="0.08"/></linearGradient>
<linearGradient id="g109" gradientUnits="userSpaceOnUse" x1="640" x2="875" y1="0" y2="0" class="w"><stop offset="0.000" stop-opacity="0.00"/><stop offset="0.511" stop-opacity="0.07"/><stop offset="1.000" stop-opacity="0.09"/></linearGradient>
<linearGradient id="g110" gradientUnits="userSpaceOnUse" x1="54" x2="731.8" y1="0" y2="0" class="w"><stop offset="0.000" stop-opacity="0.00"/><stop offset="0.190" stop-opacity="0.03"/><stop offset="0.619" stop-opacity="0.03"/><stop offset="1.000" stop-opacity="0.00"/></linearGradient>
<linearGradient id="g111" gradientUnits="userSpaceOnUse" x1="-17.1" x2="873.8" y1="0" y2="0"><stop offset="0.000" stop-opacity="0.11"/><stop offset="0.297" stop-opacity="0.11"/><stop offset="0.636" stop-opacity="0.07"/><stop offset="1.000" stop-opacity="0.04"/></linearGradient>
<linearGradient id="g112" gradientUnits="userSpaceOnUse" x1="-17.1" x2="731.8" y1="0" y2="0"><stop offset="0.000" stop-opacity="0.19"/><stop offset="0.181" stop-opacity="0.19"/><stop offset="0.397" stop-opacity="0.23"/><stop offset="0.569" stop-opacity="0.28"/><stop offset="0.756" stop-opacity="0.28"/><stop offset="0.914" stop-opacity="0.19"/><stop offset="1.000" stop-opacity="0.00"/></linearGradient>
<linearGradient id="g113" gradientUnits="userSpaceOnUse" x1="86.2" x2="680.1" y1="0" y2="0" class="w"><stop offset="0.000" stop-opacity="0.00"/><stop offset="0.109" stop-opacity="0.19"/><stop offset="0.272" stop-opacity="0.38"/><stop offset="0.435" stop-opacity="0.49"/><stop offset="0.598" stop-opacity="0.55"/><stop offset="0.707" stop-opacity="0.55"/><stop offset="0.864" stop-opacity="0.49"/><stop offset="0.946" stop-opacity="0.38"/><stop offset="1.000" stop-opacity="0.00"/></linearGradient>
<linearGradient id="g114" gradientUnits="userSpaceOnUse" x1="-17.1" x2="664" y1="0" y2="0"><stop offset="0.000" stop-opacity="0.49"/><stop offset="0.104" stop-opacity="0.38"/><stop offset="0.199" stop-opacity="0.23"/><stop offset="0.341" stop-opacity="0.28"/><stop offset="0.483" stop-opacity="0.38"/><stop offset="0.626" stop-opacity="0.38"/><stop offset="0.768" stop-opacity="0.49"/><stop offset="0.882" stop-opacity="0.61"/><stop offset="0.953" stop-opacity="0.38"/><stop offset="1.000" stop-opacity="0.00"/></linearGradient>
<linearGradient id="g115" gradientUnits="userSpaceOnUse" x1="-17.1" x2="873.8" y1="0" y2="0" class="w"><stop offset="0.000" stop-opacity="0.86"/><stop offset="0.080" stop-opacity="0.80"/><stop offset="0.152" stop-opacity="0.67"/><stop offset="0.225" stop-opacity="0.61"/><stop offset="0.297" stop-opacity="0.61"/><stop offset="0.370" stop-opacity="0.67"/><stop offset="0.478" stop-opacity="0.80"/><stop offset="0.587" stop-opacity="0.86"/><stop offset="0.674" stop-opacity="0.93"/><stop offset="0.746" stop-opacity="0.73"/><stop offset="0.801" stop-opacity="0.38"/><stop offset="0.855" stop-opacity="0.73"/><stop offset="0.909" stop-opacity="0.86"/><stop offset="0.960" stop-opacity="0.86"/><stop offset="1.000" stop-opacity="0.73"/></linearGradient>
<linearGradient id="g116" gradientUnits="userSpaceOnUse" x1="696.3" x2="873.8" y1="0" y2="0"><stop offset="0.000" stop-opacity="0.00"/><stop offset="0.091" stop-opacity="0.19"/><stop offset="0.364" stop-opacity="0.38"/><stop offset="0.727" stop-opacity="0.49"/><stop offset="1.000" stop-opacity="0.49"/></linearGradient>
<linearGradient id="g117" gradientUnits="userSpaceOnUse" x1="-17.1" x2="312.2" y1="0" y2="0"><stop offset="0.000" stop-opacity="0.43"/><stop offset="0.314" stop-opacity="0.38"/><stop offset="0.510" stop-opacity="0.38"/><stop offset="0.706" stop-opacity="0.28"/><stop offset="0.902" stop-opacity="0.19"/><stop offset="1.000" stop-opacity="0.00"/></linearGradient>
<linearGradient id="g118" gradientUnits="userSpaceOnUse" x1="-17.1" x2="793.1" y1="0" y2="0"><stop offset="0.000" stop-opacity="0.28"/><stop offset="0.088" stop-opacity="0.33"/><stop offset="0.167" stop-opacity="0.33"/><stop offset="0.247" stop-opacity="0.33"/><stop offset="0.327" stop-opacity="0.38"/><stop offset="0.386" stop-opacity="0.49"/><stop offset="0.446" stop-opacity="0.73"/><stop offset="0.506" stop-opacity="0.93"/><stop offset="0.566" stop-opacity="1.00"/><stop offset="0.645" stop-opacity="1.00"/><stop offset="0.721" stop-opacity="0.93"/><stop offset="0.801" stop-opacity="0.80"/><stop offset="0.861" stop-opacity="0.61"/><stop offset="0.920" stop-opacity="0.38"/><stop offset="0.960" stop-opacity="0.28"/><stop offset="1.000" stop-opacity="0.00"/></linearGradient>
<linearGradient id="g119" gradientUnits="userSpaceOnUse" x1="712.4" x2="873.8" y1="0" y2="0"><stop offset="0.000" stop-opacity="0.00"/><stop offset="0.100" stop-opacity="0.38"/><stop offset="0.500" stop-opacity="0.43"/><stop offset="0.800" stop-opacity="0.38"/><stop offset="1.000" stop-opacity="0.28"/></linearGradient>
<linearGradient id="g120" gradientUnits="userSpaceOnUse" x1="-17.1" x2="247.6" y1="0" y2="0" class="w"><stop offset="0.000" stop-opacity="0.14"/><stop offset="0.390" stop-opacity="0.14"/><stop offset="0.756" stop-opacity="0.11"/><stop offset="1.000" stop-opacity="0.00"/></linearGradient>
<linearGradient id="g121" gradientUnits="userSpaceOnUse" x1="-17.1" x2="247.6" y1="0" y2="0"><stop offset="0.000" stop-opacity="0.28"/><stop offset="0.390" stop-opacity="0.23"/><stop offset="0.756" stop-opacity="0.19"/><stop offset="1.000" stop-opacity="0.00"/></linearGradient>
<linearGradient id="g122" gradientUnits="userSpaceOnUse" x1="-17.1" x2="279.9" y1="0" y2="0" class="w"><stop offset="0.000" stop-opacity="0.28"/><stop offset="0.239" stop-opacity="0.28"/><stop offset="0.565" stop-opacity="0.23"/><stop offset="0.891" stop-opacity="0.19"/><stop offset="1.000" stop-opacity="0.00"/></linearGradient>
<linearGradient id="g123" gradientUnits="userSpaceOnUse" x1="-17.1" x2="376.7" y1="0" y2="0" class="w"><stop offset="0.000" stop-opacity="0.19"/><stop offset="0.262" stop-opacity="0.19"/><stop offset="0.508" stop-opacity="0.23"/><stop offset="0.672" stop-opacity="0.33"/><stop offset="0.795" stop-opacity="0.61"/><stop offset="0.877" stop-opacity="0.61"/><stop offset="0.959" stop-opacity="0.28"/><stop offset="1.000" stop-opacity="0.00"/></linearGradient>
<linearGradient id="g124" gradientUnits="userSpaceOnUse" x1="263.8" x2="392.9" y1="0" y2="0"><stop offset="0.000" stop-opacity="0.00"/><stop offset="0.250" stop-opacity="0.28"/><stop offset="0.625" stop-opacity="0.38"/><stop offset="0.875" stop-opacity="0.19"/><stop offset="1.000" stop-opacity="0.00"/></linearGradient>
<linearGradient id="g125" gradientUnits="userSpaceOnUse" x1="247.6" x2="392.9" y1="0" y2="0" class="w"><stop offset="0.000" stop-opacity="0.00"/><stop offset="0.222" stop-opacity="0.23"/><stop offset="0.667" stop-opacity="0.28"/><stop offset="0.889" stop-opacity="0.11"/><stop offset="1.000" stop-opacity="0.00"/></linearGradient>
<linearGradient id="g126" gradientUnits="userSpaceOnUse" x1="360.6" x2="567.2" y1="0" y2="0" class="w"><stop offset="0.000" stop-opacity="0.00"/><stop offset="0.156" stop-opacity="0.33"/><stop offset="0.547" stop-opacity="0.38"/><stop offset="0.703" stop-opacity="0.33"/><stop offset="0.922" stop-opacity="0.19"/><stop offset="1.000" stop-opacity="0.00"/></linearGradient>
<linearGradient id="g127" gradientUnits="userSpaceOnUse" x1="551" x2="615.6" y1="0" y2="0"><stop offset="0.000" stop-opacity="0.00"/><stop offset="0.500" stop-opacity="0.28"/><stop offset="1.000" stop-opacity="0.00"/></linearGradient>
<linearGradient id="g128" gradientUnits="userSpaceOnUse" x1="344.4" x2="631.7" y1="0" y2="0" class="w"><stop offset="0.000" stop-opacity="0.00"/><stop offset="0.112" stop-opacity="0.67"/><stop offset="0.337" stop-opacity="0.80"/><stop offset="0.562" stop-opacity="0.49"/><stop offset="0.775" stop-opacity="0.43"/><stop offset="0.944" stop-opacity="0.43"/><stop offset="1.000" stop-opacity="0.00"/></linearGradient>
<linearGradient id="g129" gradientUnits="userSpaceOnUse" x1="615.6" x2="873.8" y1="0" y2="0" class="w"><stop offset="0.000" stop-opacity="0.00"/><stop offset="0.062" stop-opacity="0.38"/><stop offset="0.187" stop-opacity="0.73"/><stop offset="0.375" stop-opacity="0.86"/><stop offset="0.562" stop-opacity="0.86"/><stop offset="0.750" stop-opacity="0.80"/><stop offset="1.000" stop-opacity="0.61"/></linearGradient>
<linearGradient id="g130" gradientUnits="userSpaceOnUse" x1="-17.1" x2="344.4" y1="0" y2="0"><stop offset="0.000" stop-opacity="0.14"/><stop offset="0.286" stop-opacity="0.19"/><stop offset="0.554" stop-opacity="0.23"/><stop offset="0.821" stop-opacity="0.38"/><stop offset="0.955" stop-opacity="0.49"/><stop offset="1.000" stop-opacity="0.00"/></linearGradient>
<linearGradient id="g131" gradientUnits="userSpaceOnUse" x1="328.3" x2="664" y1="0" y2="0"><stop offset="0.000" stop-opacity="0.19"/><stop offset="0.096" stop-opacity="0.93"/><stop offset="0.240" stop-opacity="1.00"/><stop offset="0.337" stop-opacity="1.00"/><stop offset="0.519" stop-opacity="1.00"/><stop offset="0.615" stop-opacity="0.73"/><stop offset="0.760" stop-opacity="0.61"/><stop offset="0.904" stop-opacity="0.49"/><stop offset="1.000" stop-opacity="0.00"/></linearGradient>
<linearGradient id="g132" gradientUnits="userSpaceOnUse" x1="647.8" x2="873.8" y1="0" y2="0"><stop offset="0.000" stop-opacity="0.00"/><stop offset="0.143" stop-opacity="0.38"/><stop offset="0.357" stop-opacity="0.73"/><stop offset="0.571" stop-opacity="1.00"/><stop offset="0.786" stop-opacity="0.86"/><stop offset="1.000" stop-opacity="0.61"/></linearGradient>
<linearGradient id="g133" gradientUnits="userSpaceOnUse" x1="-17.1" x2="873.8" y1="0" y2="0" class="w"><stop offset="0.000" stop-opacity="0.14"/><stop offset="0.116" stop-opacity="0.19"/><stop offset="0.188" stop-opacity="0.19"/><stop offset="0.243" stop-opacity="0.19"/><stop offset="0.297" stop-opacity="0.49"/><stop offset="0.351" stop-opacity="0.86"/><stop offset="0.406" stop-opacity="1.00"/><stop offset="0.460" stop-opacity="1.00"/><stop offset="0.514" stop-opacity="1.00"/><stop offset="0.583" stop-opacity="1.00"/><stop offset="0.638" stop-opacity="0.93"/><stop offset="0.692" stop-opacity="0.86"/><stop offset="0.746" stop-opacity="0.80"/><stop offset="0.801" stop-opacity="0.80"/><stop offset="0.873" stop-opacity="0.80"/><stop offset="0.946" stop-opacity="0.73"/><stop offset="1.000" stop-opacity="0.61"/></linearGradient>
<linearGradient id="g134" gradientUnits="userSpaceOnUse" x1="-17.1" x2="873.8" y1="0" y2="0"><stop offset="0.000" stop-opacity="0.38"/><stop offset="0.116" stop-opacity="0.49"/><stop offset="0.188" stop-opacity="0.38"/><stop offset="0.261" stop-opacity="0.33"/><stop offset="0.333" stop-opacity="0.61"/><stop offset="0.406" stop-opacity="0.73"/><stop offset="0.460" stop-opacity="1.00"/><stop offset="0.514" stop-opacity="1.00"/><stop offset="0.583" stop-opacity="0.86"/><stop offset="0.620" stop-opacity="0.49"/><stop offset="0.674" stop-opacity="0.38"/><stop offset="0.728" stop-opacity="0.61"/><stop offset="0.783" stop-opacity="0.93"/><stop offset="0.837" stop-opacity="1.00"/><stop offset="0.891" stop-opacity="0.73"/><stop offset="0.928" stop-opacity="0.38"/><stop offset="1.000" stop-opacity="0.28"/></linearGradient>
<linearGradient id="g135" gradientUnits="userSpaceOnUse" x1="583.3" x2="873.8" y1="0" y2="0" class="w"><stop offset="0.000" stop-opacity="0.00"/><stop offset="0.056" stop-opacity="0.28"/><stop offset="0.167" stop-opacity="0.61"/><stop offset="0.389" stop-opacity="0.67"/><stop offset="0.611" stop-opacity="0.61"/><stop offset="0.778" stop-opacity="0.43"/><stop offset="1.000" stop-opacity="0.38"/></linearGradient>
<linearGradient id="g136" gradientUnits="userSpaceOnUse" x1="341.2" x2="486.5" y1="0" y2="0" class="w"><stop offset="0.000" stop-opacity="0.00"/><stop offset="0.133" stop-opacity="0.28"/><stop offset="0.689" stop-opacity="0.33"/><stop offset="1.000" stop-opacity="0.00"/></linearGradient>
<linearGradient id="g137" gradientUnits="userSpaceOnUse" x1="341.2" x2="504.2" y1="0" y2="0"><stop offset="0.000" stop-opacity="0.00"/><stop offset="0.079" stop-opacity="0.43"/><stop offset="0.317" stop-opacity="0.86"/><stop offset="0.614" stop-opacity="0.80"/><stop offset="0.812" stop-opacity="0.28"/><stop offset="1.000" stop-opacity="0.00"/></linearGradient>
<linearGradient id="g138" gradientUnits="userSpaceOnUse" x1="-17.1" x2="583.3" y1="0" y2="0" class="w"><stop offset="0.000" stop-opacity="0.19"/><stop offset="0.118" stop-opacity="0.19"/><stop offset="0.280" stop-opacity="0.28"/><stop offset="0.387" stop-opacity="0.28"/><stop offset="0.495" stop-opacity="0.28"/><stop offset="0.575" stop-opacity="0.49"/><stop offset="0.629" stop-opacity="1.00"/><stop offset="0.763" stop-opacity="1.00"/><stop offset="0.817" stop-opacity="1.00"/><stop offset="0.892" stop-opacity="0.80"/><stop offset="0.946" stop-opacity="0.38"/><stop offset="1.000" stop-opacity="0.00"/></linearGradient>
<linearGradient id="g139" gradientUnits="userSpaceOnUse" x1="-17.1" x2="583.3" y1="0" y2="0"><stop offset="0.000" stop-opacity="0.33"/><stop offset="0.172" stop-opacity="0.38"/><stop offset="0.253" stop-opacity="0.43"/><stop offset="0.333" stop-opacity="0.61"/><stop offset="0.441" stop-opacity="0.49"/><stop offset="0.548" stop-opacity="0.49"/><stop offset="0.602" stop-opacity="1.00"/><stop offset="0.763" stop-opacity="1.00"/><stop offset="0.817" stop-opacity="1.00"/><stop offset="0.919" stop-opacity="0.86"/><stop offset="0.973" stop-opacity="0.38"/><stop offset="1.000" stop-opacity="0.00"/></linearGradient>
<linearGradient id="g140" gradientUnits="userSpaceOnUse" x1="599.4" x2="873.8" y1="0" y2="0"><stop offset="0.000" stop-opacity="0.00"/><stop offset="0.059" stop-opacity="0.19"/><stop offset="0.353" stop-opacity="0.23"/><stop offset="0.706" stop-opacity="0.19"/><stop offset="1.000" stop-opacity="0.19"/></linearGradient>
<linearGradient id="g141" gradientUnits="userSpaceOnUse" x1="615.6" x2="873.8" y1="0" y2="0" class="w"><stop offset="0.000" stop-opacity="0.00"/><stop offset="0.062" stop-opacity="0.38"/><stop offset="0.250" stop-opacity="0.49"/><stop offset="0.500" stop-opacity="0.43"/><stop offset="0.750" stop-opacity="0.38"/><stop offset="1.000" stop-opacity="0.28"/></linearGradient>
<linearGradient id="g142" gradientUnits="userSpaceOnUse" x1="615.6" x2="873.8" y1="0" y2="0"><stop offset="0.000" stop-opacity="0.00"/><stop offset="0.062" stop-opacity="0.28"/><stop offset="0.312" stop-opacity="0.43"/><stop offset="0.562" stop-opacity="0.38"/><stop offset="0.812" stop-opacity="0.38"/><stop offset="1.000" stop-opacity="0.33"/></linearGradient>
<linearGradient id="g143" gradientUnits="userSpaceOnUse" x1="-17.1" x2="615.6" y1="0" y2="0" class="w"><stop offset="0.000" stop-opacity="0.38"/><stop offset="0.163" stop-opacity="0.38"/><stop offset="0.265" stop-opacity="0.38"/><stop offset="0.418" stop-opacity="0.38"/><stop offset="0.520" stop-opacity="0.38"/><stop offset="0.546" stop-opacity="0.61"/><stop offset="0.622" stop-opacity="1.00"/><stop offset="0.724" stop-opacity="1.00"/><stop offset="0.821" stop-opacity="1.00"/><stop offset="0.923" stop-opacity="0.86"/><stop offset="0.974" stop-opacity="0.38"/><stop offset="1.000" stop-opacity="0.00"/></linearGradient>
<linearGradient id="g144" gradientUnits="userSpaceOnUse" x1="-17.1" x2="615.6" y1="0" y2="0"><stop offset="0.000" stop-opacity="0.28"/><stop offset="0.163" stop-opacity="0.28"/><stop offset="0.316" stop-opacity="0.19"/><stop offset="0.469" stop-opacity="0.19"/><stop offset="0.571" stop-opacity="0.38"/><stop offset="0.597" stop-opacity="0.73"/><stop offset="0.694" stop-opacity="1.00"/><stop offset="0.770" stop-opacity="0.86"/><stop offset="0.872" stop-opacity="0.86"/><stop offset="0.949" stop-opacity="0.61"/><stop offset="1.000" stop-opacity="0.00"/></linearGradient>
<linearGradient id="g145" gradientUnits="userSpaceOnUse" x1="615.6" x2="873.8" y1="0" y2="0" class="w"><stop offset="0.000" stop-opacity="0.00"/><stop offset="0.062" stop-opacity="0.19"/><stop offset="0.312" stop-opacity="0.28"/><stop offset="0.688" stop-opacity="0.23"/><stop offset="1.000" stop-opacity="0.19"/></linearGradient>
<linearGradient id="g146" gradientUnits="userSpaceOnUse" x1="360.6" x2="473.6" y1="0" y2="0" class="w"><stop offset="0.000" stop-opacity="0.00"/><stop offset="0.286" stop-opacity="0.33"/><stop offset="0.714" stop-opacity="0.28"/><stop offset="1.000" stop-opacity="0.00"/></linearGradient>
<linearGradient id="g147" gradientUnits="userSpaceOnUse" x1="328.3" x2="489.7" y1="0" y2="0"><stop offset="0.000" stop-opacity="0.00"/><stop offset="0.100" stop-opacity="0.49"/><stop offset="0.400" stop-opacity="1.00"/><stop offset="0.700" stop-opacity="0.86"/><stop offset="0.900" stop-opacity="0.19"/><stop offset="1.000" stop-opacity="0.00"/></linearGradient>
<linearGradient id="g148" gradientUnits="userSpaceOnUse" x1="486.5" x2="728.5" y1="0" y2="0" class="w"><stop offset="0.000" stop-opacity="0.00"/><stop offset="0.067" stop-opacity="0.19"/><stop offset="0.467" stop-opacity="0.28"/><stop offset="0.867" stop-opacity="0.19"/><stop offset="1.000" stop-opacity="0.00"/></linearGradient>
<linearGradient id="g149" gradientUnits="userSpaceOnUse" x1="-17.1" x2="247.6" y1="0" y2="0" class="w"><stop offset="0.000" stop-opacity="0.14"/><stop offset="0.390" stop-opacity="0.14"/><stop offset="0.756" stop-opacity="0.11"/><stop offset="1.000" stop-opacity="0.00"/></linearGradient>
<linearGradient id="g150" gradientUnits="userSpaceOnUse" x1="-17.1" x2="150.8" y1="0" y2="0" class="w"><stop offset="0.000" stop-opacity="0.19"/><stop offset="0.423" stop-opacity="0.19"/><stop offset="0.808" stop-opacity="0.11"/><stop offset="1.000" stop-opacity="0.00"/></linearGradient>
<linearGradient id="g151" gradientUnits="userSpaceOnUse" x1="296" x2="599.9" y1="0" y2="0" class="w"><stop offset="0.000" stop-opacity="0.00"/><stop offset="0.053" stop-opacity="0.28"/><stop offset="0.212" stop-opacity="0.86"/><stop offset="0.372" stop-opacity="1.00"/><stop offset="0.584" stop-opacity="1.00"/><stop offset="0.712" stop-opacity="0.49"/><stop offset="0.834" stop-opacity="0.38"/><stop offset="1.000" stop-opacity="0.00"/></linearGradient>
<linearGradient id="g152" gradientUnits="userSpaceOnUse" x1="279.9" x2="561.2" y1="0" y2="0"><stop offset="0.000" stop-opacity="0.00"/><stop offset="0.057" stop-opacity="0.38"/><stop offset="0.230" stop-opacity="1.00"/><stop offset="0.459" stop-opacity="1.00"/><stop offset="0.746" stop-opacity="1.00"/><stop offset="0.895" stop-opacity="0.73"/><stop offset="0.958" stop-opacity="0.61"/><stop offset="1.000" stop-opacity="0.00"/></linearGradient>
<linearGradient id="g153" gradientUnits="userSpaceOnUse" x1="279.9" x2="567.6" y1="0" y2="0" class="w"><stop offset="0.000" stop-opacity="0.00"/><stop offset="0.056" stop-opacity="0.38"/><stop offset="0.168" stop-opacity="0.86"/><stop offset="0.449" stop-opacity="1.00"/><stop offset="0.729" stop-opacity="1.00"/><stop offset="0.841" stop-opacity="0.61"/><stop offset="0.937" stop-opacity="0.49"/><stop offset="1.000" stop-opacity="0.00"/></linearGradient>
<linearGradient id="g154" gradientUnits="userSpaceOnUse" x1="296" x2="561.2" y1="0" y2="0"><stop offset="0.000" stop-opacity="0.00"/><stop offset="0.061" stop-opacity="0.49"/><stop offset="0.243" stop-opacity="0.93"/><stop offset="0.426" stop-opacity="1.00"/><stop offset="0.670" stop-opacity="0.93"/><stop offset="0.791" stop-opacity="0.61"/><stop offset="0.956" stop-opacity="0.49"/><stop offset="1.000" stop-opacity="0.00"/></linearGradient>
<linearGradient id="g155" gradientUnits="userSpaceOnUse" x1="263.8" x2="583.7" y1="0" y2="0" class="w"><stop offset="0.000" stop-opacity="0.00"/><stop offset="0.050" stop-opacity="0.28"/><stop offset="0.151" stop-opacity="0.61"/><stop offset="0.353" stop-opacity="0.86"/><stop offset="0.555" stop-opacity="1.00"/><stop offset="0.757" stop-opacity="0.73"/><stop offset="0.893" stop-opacity="0.49"/><stop offset="1.000" stop-opacity="0.00"/></linearGradient>
<linearGradient id="g156" gradientUnits="userSpaceOnUse" x1="247.6" x2="593.4" y1="0" y2="0"><stop offset="0.000" stop-opacity="0.00"/><stop offset="0.047" stop-opacity="0.38"/><stop offset="0.187" stop-opacity="0.73"/><stop offset="0.373" stop-opacity="1.00"/><stop offset="0.560" stop-opacity="1.00"/><stop offset="0.747" stop-opacity="1.00"/><stop offset="0.873" stop-opacity="0.86"/><stop offset="0.925" stop-opacity="0.61"/><stop offset="1.000" stop-opacity="0.00"/></linearGradient>
<linearGradient id="g157" gradientUnits="userSpaceOnUse" x1="263.8" x2="599.9" y1="0" y2="0" class="w"><stop offset="0.000" stop-opacity="0.00"/><stop offset="0.048" stop-opacity="0.28"/><stop offset="0.144" stop-opacity="0.61"/><stop offset="0.336" stop-opacity="1.00"/><stop offset="0.528" stop-opacity="1.00"/><stop offset="0.720" stop-opacity="1.00"/><stop offset="0.850" stop-opacity="0.86"/><stop offset="0.904" stop-opacity="0.73"/><stop offset="1.000" stop-opacity="0.00"/></linearGradient>
<linearGradient id="g158" gradientUnits="userSpaceOnUse" x1="263.8" x2="616" y1="0" y2="0"><stop offset="0.000" stop-opacity="0.00"/><stop offset="0.046" stop-opacity="0.38"/><stop offset="0.229" stop-opacity="0.73"/><stop offset="0.412" stop-opacity="1.00"/><stop offset="0.550" stop-opacity="1.00"/><stop offset="0.687" stop-opacity="0.61"/><stop offset="0.811" stop-opacity="0.49"/><stop offset="0.908" stop-opacity="0.28"/><stop offset="1.000" stop-opacity="0.00"/></linearGradient>
<linearGradient id="g159" gradientUnits="userSpaceOnUse" x1="247.6" x2="599.9" y1="0" y2="0" class="w"><stop offset="0.000" stop-opacity="0.00"/><stop offset="0.046" stop-opacity="0.19"/><stop offset="0.275" stop-opacity="0.38"/><stop offset="0.458" stop-opacity="0.61"/><stop offset="0.641" stop-opacity="0.49"/><stop offset="0.857" stop-opacity="0.38"/><stop offset="0.908" stop-opacity="0.23"/><stop offset="1.000" stop-opacity="0.00"/></linearGradient>
<linearGradient id="g160" gradientUnits="userSpaceOnUse" x1="247.6" x2="616" y1="0" y2="0"><stop offset="0.000" stop-opacity="0.00"/><stop offset="0.044" stop-opacity="0.38"/><stop offset="0.263" stop-opacity="0.43"/><stop offset="0.438" stop-opacity="0.49"/><stop offset="0.613" stop-opacity="0.38"/><stop offset="0.819" stop-opacity="0.38"/><stop offset="0.912" stop-opacity="0.28"/><stop offset="1.000" stop-opacity="0.00"/></linearGradient>
<linearGradient id="g161" gradientUnits="userSpaceOnUse" x1="247.6" x2="616" y1="0" y2="0" class="w"><stop offset="0.000" stop-opacity="0.00"/><stop offset="0.044" stop-opacity="0.38"/><stop offset="0.263" stop-opacity="0.43"/><stop offset="0.438" stop-opacity="0.38"/><stop offset="0.613" stop-opacity="0.49"/><stop offset="0.819" stop-opacity="0.38"/><stop offset="0.912" stop-opacity="0.38"/><stop offset="1.000" stop-opacity="0.00"/></linearGradient>
<linearGradient id="g162" gradientUnits="userSpaceOnUse" x1="247.6" x2="616" y1="0" y2="0"><stop offset="0.000" stop-opacity="0.00"/><stop offset="0.044" stop-opacity="0.38"/><stop offset="0.263" stop-opacity="0.43"/><stop offset="0.438" stop-opacity="0.49"/><stop offset="0.613" stop-opacity="0.43"/><stop offset="0.819" stop-opacity="0.43"/><stop offset="0.869" stop-opacity="0.55"/><stop offset="1.000" stop-opacity="0.00"/></linearGradient>
<linearGradient id="g163" gradientUnits="userSpaceOnUse" x1="263.8" x2="632.2" y1="0" y2="0" class="w"><stop offset="0.000" stop-opacity="0.00"/><stop offset="0.044" stop-opacity="0.33"/><stop offset="0.219" stop-opacity="0.38"/><stop offset="0.394" stop-opacity="0.43"/><stop offset="0.569" stop-opacity="0.33"/><stop offset="0.775" stop-opacity="0.38"/><stop offset="0.912" stop-opacity="0.19"/><stop offset="1.000" stop-opacity="0.00"/></linearGradient>
<linearGradient id="g164" gradientUnits="userSpaceOnUse" x1="231.5" x2="632.2" y1="0" y2="0"><stop offset="0.000" stop-opacity="0.00"/><stop offset="0.040" stop-opacity="0.28"/><stop offset="0.161" stop-opacity="0.49"/><stop offset="0.322" stop-opacity="0.55"/><stop offset="0.483" stop-opacity="0.49"/><stop offset="0.604" stop-opacity="0.28"/><stop offset="0.793" stop-opacity="0.55"/><stop offset="0.879" stop-opacity="0.23"/><stop offset="1.000" stop-opacity="0.00"/></linearGradient>
<linearGradient id="g165" gradientUnits="userSpaceOnUse" x1="150.8" x2="664.4" y1="0" y2="0" class="w"><stop offset="0.000" stop-opacity="0.00"/><stop offset="0.063" stop-opacity="0.19"/><stop offset="0.189" stop-opacity="0.33"/><stop offset="0.314" stop-opacity="0.49"/><stop offset="0.440" stop-opacity="0.55"/><stop offset="0.628" stop-opacity="0.43"/><stop offset="0.776" stop-opacity="0.49"/><stop offset="0.811" stop-opacity="0.38"/><stop offset="0.937" stop-opacity="0.19"/><stop offset="1.000" stop-opacity="0.00"/></linearGradient>
<linearGradient id="g166" gradientUnits="userSpaceOnUse" x1="150.8" x2="858.1" y1="0" y2="0"><stop offset="0.000" stop-opacity="0.00"/><stop offset="0.023" stop-opacity="0.28"/><stop offset="0.091" stop-opacity="0.49"/><stop offset="0.183" stop-opacity="0.49"/><stop offset="0.228" stop-opacity="0.73"/><stop offset="0.319" stop-opacity="0.80"/><stop offset="0.388" stop-opacity="0.86"/><stop offset="0.456" stop-opacity="0.67"/><stop offset="0.564" stop-opacity="0.73"/><stop offset="0.589" stop-opacity="0.61"/><stop offset="0.681" stop-opacity="0.28"/><stop offset="0.772" stop-opacity="0.19"/><stop offset="0.909" stop-opacity="0.19"/><stop offset="1.000" stop-opacity="0.14"/></linearGradient>
<linearGradient id="g167" gradientUnits="userSpaceOnUse" x1="263.8" x2="858.1" y1="0" y2="0" class="w"><stop offset="0.000" stop-opacity="0.00"/><stop offset="0.027" stop-opacity="0.19"/><stop offset="0.109" stop-opacity="0.43"/><stop offset="0.244" stop-opacity="0.61"/><stop offset="0.353" stop-opacity="0.61"/><stop offset="0.481" stop-opacity="0.43"/><stop offset="0.511" stop-opacity="0.49"/><stop offset="0.620" stop-opacity="0.28"/><stop offset="0.783" stop-opacity="0.19"/><stop offset="1.000" stop-opacity="0.14"/></linearGradient>
<linearGradient id="g168" gradientUnits="userSpaceOnUse" x1="328.3" x2="599.9" y1="0" y2="0"><stop offset="0.000" stop-opacity="0.00"/><stop offset="0.059" stop-opacity="0.19"/><stop offset="0.297" stop-opacity="0.49"/><stop offset="0.535" stop-opacity="0.61"/><stop offset="0.713" stop-opacity="0.49"/><stop offset="0.814" stop-opacity="0.38"/><stop offset="0.881" stop-opacity="0.28"/><stop offset="1.000" stop-opacity="0.00"/></linearGradient>
<linearGradient id="g169" gradientUnits="userSpaceOnUse" x1="215.3" x2="696.7" y1="0" y2="0" class="w"><stop offset="0.000" stop-opacity="0.00"/><stop offset="0.067" stop-opacity="0.23"/><stop offset="0.201" stop-opacity="0.33"/><stop offset="0.335" stop-opacity="0.28"/><stop offset="0.469" stop-opacity="0.19"/><stop offset="0.694" stop-opacity="0.23"/><stop offset="0.732" stop-opacity="0.23"/><stop offset="0.933" stop-opacity="0.19"/><stop offset="1.000" stop-opacity="0.00"/></linearGradient>
<linearGradient id="g170" gradientUnits="userSpaceOnUse" x1="215.3" x2="729" y1="0" y2="0"><stop offset="0.000" stop-opacity="0.00"/><stop offset="0.031" stop-opacity="0.28"/><stop offset="0.126" stop-opacity="0.49"/><stop offset="0.251" stop-opacity="0.61"/><stop offset="0.377" stop-opacity="0.55"/><stop offset="0.503" stop-opacity="0.49"/><stop offset="0.650" stop-opacity="0.61"/><stop offset="0.686" stop-opacity="0.61"/><stop offset="0.811" stop-opacity="0.38"/><stop offset="0.937" stop-opacity="0.19"/><stop offset="1.000" stop-opacity="0.00"/></linearGradient>
<linearGradient id="g171" gradientUnits="userSpaceOnUse" x1="215.3" x2="696.7" y1="0" y2="0" class="w"><stop offset="0.000" stop-opacity="0.00"/><stop offset="0.034" stop-opacity="0.19"/><stop offset="0.201" stop-opacity="0.28"/><stop offset="0.402" stop-opacity="0.38"/><stop offset="0.536" stop-opacity="0.33"/><stop offset="0.694" stop-opacity="0.38"/><stop offset="0.732" stop-opacity="0.38"/><stop offset="0.933" stop-opacity="0.23"/><stop offset="1.000" stop-opacity="0.00"/></linearGradient>
<linearGradient id="g172" gradientUnits="userSpaceOnUse" x1="-17.1" x2="86.2" y1="0" y2="0" class="w"><stop offset="0.000" stop-opacity="0.38"/><stop offset="0.688" stop-opacity="0.33"/><stop offset="1.000" stop-opacity="0.00"/></linearGradient>
<linearGradient id="g173" gradientUnits="userSpaceOnUse" x1="-17.1" x2="134.6" y1="0" y2="0"><stop offset="0.000" stop-opacity="0.61"/><stop offset="0.468" stop-opacity="0.55"/><stop offset="0.681" stop-opacity="0.28"/><stop offset="1.000" stop-opacity="0.00"/></linearGradient>
<linearGradient id="g174" gradientUnits="userSpaceOnUse" x1="-17.1" x2="263.8" y1="0" y2="0" class="w"><stop offset="0.000" stop-opacity="0.73"/><stop offset="0.253" stop-opacity="0.67"/><stop offset="0.483" stop-opacity="0.49"/><stop offset="0.713" stop-opacity="0.38"/><stop offset="0.885" stop-opacity="0.28"/><stop offset="1.000" stop-opacity="0.00"/></linearGradient>
<linearGradient id="g175" gradientUnits="userSpaceOnUse" x1="-17.1" x2="215.3" y1="0" y2="0"><stop offset="0.000" stop-opacity="0.28"/><stop offset="0.444" stop-opacity="0.23"/><stop offset="0.861" stop-opacity="0.19"/><stop offset="1.000" stop-opacity="0.00"/></linearGradient>
<linearGradient id="g176" gradientUnits="userSpaceOnUse" x1="-17.1" x2="118.5" y1="0" y2="0" class="w"><stop offset="0.000" stop-opacity="0.14"/><stop offset="0.762" stop-opacity="0.11"/><stop offset="1.000" stop-opacity="0.00"/></linearGradient>
<linearGradient id="g177" gradientUnits="userSpaceOnUse" x1="-17.1" x2="150.8" y1="0" y2="0"><stop offset="0.000" stop-opacity="0.33"/><stop offset="0.423" stop-opacity="0.28"/><stop offset="0.808" stop-opacity="0.19"/><stop offset="1.000" stop-opacity="0.00"/></linearGradient>
<linearGradient id="g178" gradientUnits="userSpaceOnUse" x1="-17.1" x2="215.3" y1="0" y2="0" class="w"><stop offset="0.000" stop-opacity="0.33"/><stop offset="0.306" stop-opacity="0.28"/><stop offset="0.583" stop-opacity="0.19"/><stop offset="0.861" stop-opacity="0.11"/><stop offset="1.000" stop-opacity="0.00"/></linearGradient>
<linearGradient id="g179" gradientUnits="userSpaceOnUse" x1="-17.1" x2="263.8" y1="0" y2="0"><stop offset="0.000" stop-opacity="0.38"/><stop offset="0.253" stop-opacity="0.33"/><stop offset="0.483" stop-opacity="0.19"/><stop offset="0.713" stop-opacity="0.23"/><stop offset="0.885" stop-opacity="0.23"/><stop offset="1.000" stop-opacity="0.00"/></linearGradient>
<linearGradient id="g180" gradientUnits="userSpaceOnUse" x1="102.4" x2="263.8" y1="0" y2="0"><stop offset="0.000" stop-opacity="0.00"/><stop offset="0.100" stop-opacity="0.11"/><stop offset="0.400" stop-opacity="0.23"/><stop offset="0.600" stop-opacity="0.28"/><stop offset="0.800" stop-opacity="0.19"/><stop offset="1.000" stop-opacity="0.00"/></linearGradient>
<linearGradient id="g181" gradientUnits="userSpaceOnUse" x1="70.1" x2="231.5" y1="0" y2="0" class="w"><stop offset="0.000" stop-opacity="0.00"/><stop offset="0.100" stop-opacity="0.11"/><stop offset="0.500" stop-opacity="0.14"/><stop offset="0.800" stop-opacity="0.19"/><stop offset="1.000" stop-opacity="0.00"/></linearGradient>
<linearGradient id="g182" gradientUnits="userSpaceOnUse" x1="-17.1" x2="247.6" y1="0" y2="0" class="w"><stop offset="0.000" stop-opacity="0.11"/><stop offset="0.390" stop-opacity="0.14"/><stop offset="0.756" stop-opacity="0.11"/><stop offset="1.000" stop-opacity="0.00"/></linearGradient>
<linearGradient id="g183" gradientUnits="userSpaceOnUse" x1="-17.1" x2="247.6" y1="0" y2="0"><stop offset="0.000" stop-opacity="0.11"/><stop offset="0.390" stop-opacity="0.11"/><stop offset="0.756" stop-opacity="0.11"/><stop offset="1.000" stop-opacity="0.00"/></linearGradient>
<linearGradient id="g184" gradientUnits="userSpaceOnUse" x1="-17.1" x2="215.3" y1="0" y2="0" class="w"><stop offset="0.000" stop-opacity="0.11"/><stop offset="0.444" stop-opacity="0.14"/><stop offset="0.861" stop-opacity="0.11"/><stop offset="1.000" stop-opacity="0.00"/></linearGradient>
<linearGradient id="g185" gradientUnits="userSpaceOnUse" x1="551.5" x2="871" y1="0" y2="0"><stop offset="0.000" stop-opacity="0.00"/><stop offset="0.051" stop-opacity="0.23"/><stop offset="0.354" stop-opacity="0.19"/><stop offset="0.657" stop-opacity="0.23"/><stop offset="0.859" stop-opacity="0.28"/><stop offset="1.000" stop-opacity="0.28"/></linearGradient>
<linearGradient id="g186" gradientUnits="userSpaceOnUse" x1="535.3" x2="761.3" y1="0" y2="0" class="w"><stop offset="0.000" stop-opacity="0.00"/><stop offset="0.071" stop-opacity="0.23"/><stop offset="0.429" stop-opacity="0.28"/><stop offset="0.857" stop-opacity="0.19"/><stop offset="1.000" stop-opacity="0.00"/></linearGradient>
<linearGradient id="g187" gradientUnits="userSpaceOnUse" x1="551.5" x2="761.3" y1="0" y2="0"><stop offset="0.000" stop-opacity="0.00"/><stop offset="0.077" stop-opacity="0.33"/><stop offset="0.385" stop-opacity="0.38"/><stop offset="0.692" stop-opacity="0.28"/><stop offset="1.000" stop-opacity="0.00"/></linearGradient>
<linearGradient id="g188" gradientUnits="userSpaceOnUse" x1="551.5" x2="793.5" y1="0" y2="0" class="w"><stop offset="0.000" stop-opacity="0.00"/><stop offset="0.067" stop-opacity="0.28"/><stop offset="0.333" stop-opacity="0.33"/><stop offset="0.600" stop-opacity="0.23"/><stop offset="1.000" stop-opacity="0.00"/></linearGradient>
<linearGradient id="g189" gradientUnits="userSpaceOnUse" x1="583.7" x2="761.3" y1="0" y2="0"><stop offset="0.000" stop-opacity="0.00"/><stop offset="0.091" stop-opacity="0.11"/><stop offset="0.455" stop-opacity="0.23"/><stop offset="0.818" stop-opacity="0.14"/><stop offset="1.000" stop-opacity="0.00"/></linearGradient>
<linearGradient id="g190" gradientUnits="userSpaceOnUse" x1="712.9" x2="871" y1="0" y2="0" class="w"><stop offset="0.000" stop-opacity="0.00"/><stop offset="0.102" stop-opacity="0.11"/><stop offset="0.510" stop-opacity="0.19"/><stop offset="1.000" stop-opacity="0.19"/></linearGradient>
<linearGradient id="g191" gradientUnits="userSpaceOnUse" x1="648.3" x2="858.1" y1="0" y2="0" class="w"><stop offset="0.000" stop-opacity="0.00"/><stop offset="0.077" stop-opacity="0.14"/><stop offset="1.000" stop-opacity="0.14"/></linearGradient>
<linearGradient id="g192" gradientUnits="userSpaceOnUse" x1="648.3" x2="858.1" y1="0" y2="0"><stop offset="0.000" stop-opacity="0.00"/><stop offset="0.077" stop-opacity="0.19"/><stop offset="1.000" stop-opacity="0.19"/></linearGradient>
<linearGradient id="g193" gradientUnits="userSpaceOnUse" x1="664.4" x2="858.1" y1="0" y2="0" class="w"><stop offset="0.000" stop-opacity="0.00"/><stop offset="0.167" stop-opacity="0.11"/><stop offset="1.000" stop-opacity="0.11"/></linearGradient>
<linearGradient id="g194" gradientUnits="userSpaceOnUse" x1="664.4" x2="858.1" y1="0" y2="0"><stop offset="0.000" stop-opacity="0.00"/><stop offset="0.167" stop-opacity="0.11"/><stop offset="1.000" stop-opacity="0.14"/></linearGradient>
<linearGradient id="cb" x1="0" x2="1" y1="0" y2="0"><stop offset="0" stop-color="#0000ff"/><stop offset=".5" stop-color="#80ff80"/><stop offset="1" stop-color="#ffff00"/></linearGradient></defs>
<rect width="2138" height="2657" fill="#fff"/>
<clipPath id="cA"><rect x="160.2" y="39" width="858.5" height="857.1"/></clipPath>
<g clip-path="url(#cA)">
<rect x="160.2" y="39" width="858.5" height="857.1" fill="#808080"/>
<g filter="url(#bl)" fill="none" transform="translate(160.2 39)">
<path d="M-20.3 62C6.7 61.8 98 61.4 142 61C185.9 60.6 226.5 59.7 243.4 59.5" stroke="url(#g1)" stroke-width="12"/>
<path d="M-20.3 77.2C2.5 77.4 81.1 77.8 116.6 78.2C152.1 78.7 180 79.5 192.7 79.8" stroke="url(#g2)" stroke-width="12"/>
<path d="M142 31.6C167.3 30.7 226.5 26.9 294.1 26.5C361.7 26.1 471.6 27.3 547.7 29C623.8 30.7 716.8 35.4 750.6 36.6" stroke="url(#g3)" stroke-width="20"/>
<path d="M182.5 85.8C201.1 84 250.2 77.6 294.1 74.7C338.1 71.8 399.8 69 446.3 68.6C492.8 68.2 539.3 70 573.1 72.2C606.9 74.3 636.5 79.8 649.2 81.3" stroke="url(#g4)" stroke-width="12"/>
<path d="M-20.3 99C2.5 99 89.5 99.3 116.6 99C143.7 98.8 133.5 98.2 142 97.5C150.4 96.8 142 96.7 167.3 95C192.7 93.3 247.6 89.5 294.1 87.4C340.6 85.3 404 82.3 446.3 82.3C488.5 82.3 513.9 85.3 547.7 87.4C581.5 89.5 623.8 93 649.2 95C674.5 96.9 691.4 98.4 699.9 99" stroke="url(#g5)" stroke-width="12"/>
<path d="M699.9 89.9C708.3 89.5 721.9 87.8 750.6 87.4C779.3 86.9 852 87.4 872.3 87.4" stroke="url(#g6)" stroke-width="12"/>
<path d="M-20.3 112.7C6.7 113 106.5 114.7 142 114.3C177.5 113.8 167.3 112.6 192.7 110.2C218 107.8 251.9 102.6 294.1 100C336.4 97.5 404 95 446.3 95C488.5 95 522.4 97.8 547.7 100C573.1 102.3 581.5 106.6 598.4 108.7C615.3 110.8 633.9 111.6 649.2 112.7C664.4 113.8 683 114.8 689.7 115.3" stroke="url(#g7)" stroke-width="12.8"/>
<path d="M710 108.7C715.1 108.5 713.4 108.2 740.5 107.7C767.5 107.1 850.4 105.5 872.3 105.1" stroke="url(#g8)" stroke-width="12"/>
<path d="M-20.3 133C6.7 133 98 134.3 142 133C185.9 131.7 209.6 127.9 243.4 125.4C277.2 122.9 311 119.9 344.8 117.8C378.7 115.7 412.5 112.9 446.3 112.7C480.1 112.6 518.1 114.7 547.7 116.8C577.3 118.9 602.7 122.7 623.8 125.4C644.9 128.1 657.6 130.1 674.5 133C691.4 136 708.3 139.8 725.2 143.2C742.2 146.5 767.5 151.6 776 153.3" stroke="url(#g9)" stroke-width="12"/>
<path d="M715.1 125.4C721 125.2 724.4 124.7 750.6 123.9C776.8 123 852 120.9 872.3 120.3" stroke="url(#g10)" stroke-width="12"/>
<path d="M-20.3 148.2C6.7 148.7 98 151.6 142 150.8C185.9 149.9 209.6 145.3 243.4 143.2C277.2 141 311 139.4 344.8 138.1C378.7 136.8 412.5 135.6 446.3 135.6C480.1 135.6 513.9 136.4 547.7 138.1C581.5 139.8 619.6 142.7 649.2 145.7C678.7 148.7 699.9 152.5 725.2 155.8C750.6 159.2 776.8 162.2 801.3 166C825.8 169.8 860.5 176.6 872.3 178.7" stroke="url(#g11)" stroke-width="12.4"/>
<path d="M-20.3 168.5C2.5 168.5 72.6 168.9 116.6 168.5C160.6 168.1 209.6 167.7 243.4 166C277.2 164.3 294.1 160.3 319.5 158.4C344.8 156.4 366 155 395.6 154.3C425.1 153.6 467.4 153.6 497 154.3C526.6 155 551.9 156 573.1 158.4C594.2 160.7 602.7 166 623.8 168.5C644.9 171.1 674.5 170.6 699.9 173.6C725.2 176.6 747.2 182.5 776 186.3C804.7 190.1 856.3 194.7 872.3 196.4" stroke="url(#g12)" stroke-width="13.1"/>
<path d="M-20.3 183.7C15.2 183.3 140.3 182.5 192.7 181.2C245.1 179.9 264.5 177.8 294.1 176.1C323.7 174.4 344.8 172.2 370.2 171.1C395.6 170 420.9 169.3 446.3 169.5C471.6 169.8 505.5 171.5 522.4 172.6C539.3 173.7 539.3 175.1 547.7 176.1C556.2 177.1 568.9 178.2 573.1 178.7" stroke="url(#g13)" stroke-width="13.6"/>
<path d="M-20.3 204C6.7 203.6 102.2 201.5 142 201.5C181.7 201.5 192.7 205.3 218 204C243.4 202.8 268.8 196.8 294.1 193.9C319.5 190.9 344.8 188 370.2 186.3C395.6 184.6 418.4 183.5 446.3 183.7C474.2 184 516.4 186.5 537.6 187.8C558.7 189.1 546 191.2 573.1 191.3C600.1 191.5 666.1 187.5 699.9 188.8C733.7 190.1 747.2 195.6 776 199C804.7 202.3 856.3 207.4 872.3 209.1" stroke="url(#g14)" stroke-width="13.1"/>
<path d="M-15 255.7C11.2 250.5 103.1 230.4 142 224.3C180.8 218.2 192.7 221.8 218 219.2C243.4 216.7 268.8 211.8 294.1 209.1C319.5 206.4 344.8 204.5 370.2 203C395.6 201.5 418.4 199.6 446.3 200C474.2 200.3 512.2 203.5 537.6 205C562.9 206.6 542.7 207.6 598.4 209.1C654.2 210.6 826.7 213.3 872.3 214.2" stroke="url(#g15)" stroke-width="13.1"/>
<path d="M-15 276C11.2 270.8 107.3 250.7 142 244.6C176.6 238.5 171.5 242.1 192.7 239.5C213.8 237 243.4 232.3 268.8 229.4C294.1 226.4 315.3 223.7 344.8 221.8C374.4 219.8 412.5 217.7 446.3 217.7C480.1 217.7 513.9 220.5 547.7 221.8C581.5 223 615.3 224.5 649.2 225.3C683 226.2 713.4 226.3 750.6 226.8C787.8 227.4 852 228.1 872.3 228.4" stroke="url(#g16)" stroke-width="12"/>
<path d="M-15 306.4C11.2 301.2 109 282 142 275C174.9 268.1 165.6 268.3 182.5 264.9C199.4 261.5 220.6 258.1 243.4 254.7C266.2 251.4 294.1 247 319.5 244.6C344.8 242.2 366 241.4 395.6 240.5C425.1 239.7 463.2 238.9 497 239.5C530.8 240.2 564.6 243.1 598.4 244.6C632.3 246.1 666.1 248.2 699.9 248.7C733.7 249.1 772.6 247.8 801.3 247.1C830.1 246.5 860.5 245 872.3 244.6" stroke="url(#g17)" stroke-width="13.1"/>
<path d="M-15 326.7C11.2 321.5 109 302.2 142 295.3C174.9 288.4 165.6 288.6 182.5 285.2C199.4 281.8 220.6 278.2 243.4 275C266.2 271.8 289.9 268.4 319.5 265.9C349.1 263.4 387.1 260.8 420.9 259.8C454.7 258.8 488.5 259 522.4 259.8C556.2 260.7 590 263.2 623.8 264.9C657.6 266.6 695.7 268.3 725.2 270C754.8 271.7 776.8 272.9 801.3 275C825.8 277.1 860.5 281.4 872.3 282.6" stroke="url(#g18)" stroke-width="13.1"/>
<path d="M-15 341.4C12.9 335.9 117.5 314.8 152.1 308C186.7 301.2 173.2 302.9 192.7 300.4C212.1 297.9 243.4 295.2 268.8 292.8C294.1 290.4 315.3 287.9 344.8 286.2C374.4 284.5 412.5 283 446.3 282.6C480.1 282.3 513.9 282.9 547.7 284.2C581.5 285.4 619.6 288.4 649.2 290.2C678.7 292.1 699.9 293.2 725.2 295.3C750.6 297.4 776.8 300.4 801.3 302.9C825.8 305.5 860.5 309.3 872.3 310.5" stroke="url(#g19)" stroke-width="12"/>
<path d="M-15 377.4C23.8 369.7 170.7 340.3 218 330.8C265.3 321.4 247.6 323.6 268.8 320.7C289.9 317.7 319.5 314.9 344.8 313.1C370.2 311.2 395.6 310.1 420.9 309.5C446.3 308.9 471.6 308.9 497 309.5C522.4 310.1 547.7 311.4 573.1 313.1C598.4 314.8 623.8 317.6 649.2 319.7C674.5 321.8 699.9 323.5 725.2 325.8C750.6 328 776.8 330.8 801.3 333.4C825.8 335.9 860.5 339.7 872.3 341" stroke="url(#g20)" stroke-width="14.5"/>
<path d="M-15 407.9C28.1 399.3 191.9 366.5 243.4 356.2C294.9 345.9 277.2 349 294.1 346C311 343.1 323.7 341.1 344.8 338.4C366 335.7 399.8 331.5 420.9 329.8C442.1 328.1 450.5 328 471.6 328.3C492.8 328.6 522.4 329.7 547.7 331.8C573.1 334 598.4 338.2 623.8 341C649.2 343.8 674.5 346 699.9 348.6C725.2 351.1 747.2 353.2 776 356.2C804.7 359.1 856.3 364.6 872.3 366.3" stroke="url(#g21)" stroke-width="14.5"/>
<path d="M-15 438.3C23.8 430.5 170.7 402 218 391.7C265.3 381.4 247.6 381.7 268.8 376.5C289.9 371.2 319.5 364.5 344.8 360.2C370.2 356 399.8 352.8 420.9 351.1C442.1 349.4 450.5 349.4 471.6 350.1C492.8 350.8 522.4 352.9 547.7 355.2C573.1 357.5 598.4 360.7 623.8 363.8C649.2 366.9 674.5 371 699.9 373.9C725.2 376.9 747.2 379 776 381.5C804.7 384.1 856.3 387.9 872.3 389.2" stroke="url(#g22)" stroke-width="13.9"/>
<path d="M-15 458.6C23.8 450.8 170.7 422.3 218 412C265.3 401.7 247.6 401.8 268.8 396.8C289.9 391.7 319.5 385.9 344.8 381.5C370.2 377.1 399.8 372.5 420.9 370.4C442.1 368.3 450.5 368.3 471.6 368.9C492.8 369.5 522.4 371.4 547.7 373.9C573.1 376.5 598.4 380.7 623.8 384.1C649.2 387.5 674.5 390.8 699.9 394.2C725.2 397.6 747.2 401 776 404.4C804.7 407.8 856.3 412.8 872.3 414.5" stroke="url(#g23)" stroke-width="14.5"/>
<path d="M-15 478.9C19.6 472 149.6 446.8 192.7 437.3C235.7 427.9 222.3 427.6 243.4 422.1C264.5 416.6 294.1 409.4 319.5 404.4C344.8 399.3 370.2 394.4 395.6 391.7C420.9 389 446.3 387.7 471.6 388.1C497 388.6 522.4 391.5 547.7 394.2C573.1 396.9 598.4 400.7 623.8 404.4C649.2 408 678.7 413.1 699.9 416C721 419 721.9 418.6 750.6 422.1C779.3 425.7 852 434.8 872.3 437.3" stroke="url(#g24)" stroke-width="12.3"/>
<path d="M-15 473C23.8 465.2 170.7 436.2 218 426.4C265.3 416.5 247.6 416.9 268.8 413.7C289.9 410.5 319.5 408.5 344.8 407.1C370.2 405.6 395.6 405.2 420.9 405.1C446.3 404.9 467.4 405.1 497 406.1C526.6 407.1 564.6 409 598.4 411.1C632.3 413.3 666.1 416.2 699.9 418.8C733.7 421.3 772.6 423.8 801.3 426.4C830.1 428.9 860.5 432.7 872.3 434" stroke="url(#g25)" stroke-width="12"/>
<path d="M-15 491.2C17.9 484.6 141.2 460.4 182.5 451.7C223.9 443 210.4 443.3 233.3 439C256.1 434.8 288.2 429.3 319.5 426.4C350.8 423.4 387.1 421.7 420.9 421.3C454.7 420.9 492.8 422.1 522.4 423.8C551.9 425.5 577.3 428.9 598.4 431.4C619.6 434 623.8 437.3 649.2 439C674.5 440.7 713.4 439.9 750.6 441.6C787.8 443.3 852 447.9 872.3 449.2" stroke="url(#g26)" stroke-width="12"/>
<path d="M-15 501.4C17.9 494.8 141.2 470.1 182.5 461.9C223.9 453.6 210.4 454.7 233.3 451.7C256.1 448.8 288.2 446 319.5 444.1C350.8 442.3 387.1 440.6 420.9 440.6C454.7 440.6 497 442.7 522.4 444.1C547.7 445.5 556.2 447.5 573.1 449.2C590 450.9 573.5 447.1 623.8 454.3C674.1 461.4 833.1 485.7 875 491.9" stroke="url(#g27)" stroke-width="12.3"/>
<path d="M-15 536.4C28.1 527.8 191.9 495.4 243.4 484.7C294.9 474 273 475.4 294.1 472C315.3 468.6 344.8 466.1 370.2 464.4C395.6 462.7 420.9 461.9 446.3 461.9C471.6 461.9 501.2 463.1 522.4 464.4C543.5 465.7 551.9 469 573.1 469.5C594.2 469.9 619.6 465.7 649.2 466.9C678.7 468.2 713.4 473.3 750.6 477.1C787.8 480.9 852 487.6 872.3 489.8" stroke="url(#g28)" stroke-width="12.8"/>
<path d="M-15 556.7C28.1 548 191.9 515.7 243.4 505C294.9 494.2 273 495.8 294.1 492.3C315.3 488.7 344.8 485.5 370.2 483.7C395.6 481.8 420.9 481.1 446.3 481.1C471.6 481.1 501.2 482.2 522.4 483.7C543.5 485.1 557.9 487.5 573.1 489.8C588.3 492 606.9 496.1 613.7 497.4" stroke="url(#g29)" stroke-width="13.9"/>
<path d="M598.4 485.2C606.9 484.9 623.8 482.7 649.2 483.7C674.5 484.7 713.4 487.7 750.6 491.3C787.8 494.8 852 502.7 872.3 505" stroke="url(#g30)" stroke-width="12"/>
<path d="M-15 577.5C26.4 569.2 183.4 538.2 233.3 527.8C283.1 517.4 265.4 518.7 284 515.1C302.6 511.6 322 508.8 344.8 506.5C367.7 504.2 395.6 502.1 420.9 501.4C446.3 500.7 475.9 501.4 497 502.4C518.1 503.5 530.8 505.4 547.7 507.5C564.6 509.6 581.5 513 598.4 515.1C615.3 517.2 603.1 513.7 649.2 520.2C695.3 526.7 837.4 548.4 875 554.1" stroke="url(#g31)" stroke-width="14.5"/>
<path d="M-15 594.7C23.8 586.9 170.7 558.4 218 548.1C265.3 537.8 247.6 537.1 268.8 532.9C289.9 528.6 319.5 525 344.8 522.7C370.2 520.4 395.6 519.6 420.9 519.2C446.3 518.8 471.6 519.2 497 520.2C522.4 521.2 551.9 523.2 573.1 525.3C594.2 527.4 606.9 530.8 623.8 532.9C640.7 535 632.7 532.1 674.5 537.9C716.4 543.8 841.6 563 875 568" stroke="url(#g32)" stroke-width="14.5"/>
<path d="M-15 605.3C17.9 598.8 141.2 574.5 182.5 565.8C223.9 557.1 210.4 557.4 233.3 553.2C256.1 548.9 288.2 543.4 319.5 540.5C350.8 537.5 387.1 536 420.9 535.4C454.7 534.8 492.8 535.5 522.4 536.9C551.9 538.4 577.3 541.7 598.4 544C619.6 546.3 623.8 548.3 649.2 550.6C674.5 553 713.4 555.3 750.6 558.2C787.8 561.2 852 566.7 872.3 568.4" stroke="url(#g33)" stroke-width="12"/>
<path d="M-15 620.1C19.6 613.1 149.6 587.6 192.7 578.5C235.7 569.5 222.3 569.6 243.4 565.8C264.5 562 289.9 558.2 319.5 555.7C349.1 553.2 387.1 551 420.9 550.6C454.7 550.2 488.5 551.5 522.4 553.2C556.2 554.9 598.4 558.7 623.8 560.8C649.2 562.9 633.1 562 674.5 565.8C715.9 569.6 839.4 580.6 872.3 583.6" stroke="url(#g34)" stroke-width="12"/>
<path d="M-15 638.3C17.9 631.7 141.2 607.5 182.5 598.8C223.9 590.1 210.4 589.9 233.3 586.1C256.1 582.3 288.2 578.5 319.5 576C350.8 573.4 387.1 571.5 420.9 570.9C454.7 570.3 488.5 571.2 522.4 572.4C556.2 573.7 565.5 573.7 623.8 578.5C682.1 583.3 830.9 597.5 872.3 601.3" stroke="url(#g35)" stroke-width="12"/>
<path d="M-15 653C19.6 646.1 149.6 620.5 192.7 611.5C235.7 602.5 222.3 602.2 243.4 598.8C264.5 595.4 294.1 593.1 319.5 591.2C344.8 589.3 366 588.1 395.6 587.7C425.1 587.2 463.2 587.7 497 588.7C530.8 589.7 535.9 589.1 598.4 593.7C661 598.4 826.7 612.8 872.3 616.6" stroke="url(#g36)" stroke-width="12"/>
<path d="M-15 673.3C23.8 665.5 170.7 636.2 218 626.7C265.3 617.2 247.6 619.5 268.8 616.6C289.9 613.6 323.7 610.5 344.8 609C366 607.4 378.7 607.4 395.6 607.4C412.5 607.4 420.9 608.3 446.3 609C471.6 609.6 476.7 607.3 547.7 611.5C618.7 615.7 818.2 630.5 872.3 634.3" stroke="url(#g37)" stroke-width="12"/>
<path d="M-15 691.1C23.8 683.3 170.7 653.9 218 644.5C265.3 635 247.6 637.3 268.8 634.3C289.9 631.4 319.5 628.4 344.8 626.7C370.2 625 395.6 624.2 420.9 624.2C446.3 624.2 471.6 625.4 497 626.7C522.4 628 510.5 627.6 573.1 631.8C635.6 636 822.5 648.7 872.3 652.1" stroke="url(#g38)" stroke-width="12"/>
<path d="M-15 708.8C15.4 702.7 128.5 680.5 167.3 672.4C206.2 664.2 196.9 663.5 218 659.7C239.2 655.9 268.8 652.1 294.1 649.5C319.5 647 344.8 645.5 370.2 644.5C395.6 643.4 416.7 643 446.3 643.4C475.9 643.9 518.1 645.6 547.7 647C577.3 648.4 598.4 650 623.8 652.1C649.2 654.2 658.5 655.4 699.9 659.7C741.3 663.9 843.6 674.5 872.3 677.4" stroke="url(#g39)" stroke-width="12"/>
<path d="M-15 726.6C15.4 720.5 128.5 698.3 167.3 690.1C206.2 681.9 196.9 681.2 218 677.4C239.2 673.6 268.8 669.8 294.1 667.3C319.5 664.7 344.8 663.2 370.2 662.2C395.6 661.2 416.7 660.8 446.3 661.2C475.9 661.6 513.9 662.9 547.7 664.7C581.5 666.6 619.6 669.8 649.2 672.4C678.7 674.9 688 676.2 725.2 680C762.4 683.8 847.8 692.6 872.3 695.2" stroke="url(#g40)" stroke-width="12"/>
<path d="M-15 741.8C11.2 736.6 107.3 717.3 142 710.4C176.6 703.5 167.3 704.5 192.7 700.2C218 696 260.3 688.4 294.1 685C327.9 681.7 361.7 680.6 395.6 680C429.4 679.4 463.2 680.2 497 681.5C530.8 682.8 564.6 684.9 598.4 687.6C632.3 690.3 666.1 693.9 699.9 697.7C733.7 701.5 772.6 707 801.3 710.4C830.1 713.8 860.5 716.7 872.3 718" stroke="url(#g41)" stroke-width="12"/>
<path d="M-15 757C11.2 751.8 107.3 732.5 142 725.6C176.6 718.7 167.3 718.8 192.7 715.5C218 712.1 260.3 707.9 294.1 705.3C327.9 702.8 361.7 701.1 395.6 700.2C429.4 699.4 463.2 699.4 497 700.2C530.8 701.1 564.6 702.8 598.4 705.3C632.3 707.9 654.2 710.4 699.9 715.5C745.5 720.5 843.6 732.4 872.3 735.8" stroke="url(#g42)" stroke-width="12"/>
<path d="M-15 777.3C11.2 772.1 107.3 752.8 142 745.9C176.6 739 167.3 739.1 192.7 735.8C218 732.4 260.3 728.1 294.1 725.6C327.9 723.1 361.7 721.4 395.6 720.5C429.4 719.7 463.2 719.7 497 720.5C530.8 721.4 535.9 720.5 598.4 725.6C661 730.7 826.7 746.7 872.3 751" stroke="url(#g43)" stroke-width="12"/>
<path d="M-15 797.6C11.2 792.3 107.3 773.1 142 766.2C176.6 759.3 167.3 759.8 192.7 756C218 752.2 260.3 746.3 294.1 743.4C327.9 740.4 361.7 738.9 395.6 738.3C429.4 737.7 463.2 738.5 497 739.8C530.8 741.1 556.2 743.2 598.4 745.9C640.7 748.6 705 751.8 750.6 756C796.3 760.3 852 768.7 872.3 771.3" stroke="url(#g44)" stroke-width="12"/>
<path d="M-15 817.9C11.2 812.6 107.3 793.4 142 786.5C176.6 779.6 167.3 780.1 192.7 776.3C218 772.5 260.3 766.6 294.1 763.6C327.9 760.7 361.7 759.2 395.6 758.6C429.4 758 463.2 758.8 497 760.1C530.8 761.4 556.2 763.5 598.4 766.2C640.7 768.9 705 772.1 750.6 776.3C796.3 780.6 852 789 872.3 791.5" stroke="url(#g45)" stroke-width="12"/>
<path d="M-15 838.2C11.2 832.9 107.3 813.7 142 806.8C176.6 799.8 167.3 800.4 192.7 796.6C218 792.8 260.3 786.9 294.1 783.9C327.9 781 361.7 779.5 395.6 778.9C429.4 778.3 463.2 779.1 497 780.4C530.8 781.7 556.2 783.8 598.4 786.5C640.7 789.2 705 792.4 750.6 796.6C796.3 800.8 852 809.3 872.3 811.8" stroke="url(#g46)" stroke-width="12"/>
<path d="M-15 855.9C11.2 850.7 107.3 831.4 142 824.5C176.6 817.6 167.3 818.2 192.7 814.4C218 810.6 260.3 804.6 294.1 801.7C327.9 798.7 361.7 797.2 395.6 796.6C429.4 796 463.2 796.9 497 798.1C530.8 799.4 556.2 801.5 598.4 804.2C640.7 806.9 705 810.1 750.6 814.4C796.3 818.6 852 827 872.3 829.6" stroke="url(#g47)" stroke-width="12"/>
<path d="M-15 873.7C11.2 868.4 104.8 849.6 142 842.3C179.1 834.9 182.5 833.4 207.9 829.6C233.3 825.8 262.8 822 294.1 819.4C325.4 816.9 361.7 815 395.6 814.4C429.4 813.8 471.6 815 497 815.9C522.4 816.7 505.5 816.7 547.7 819.4C590 822.1 696.5 827.5 750.6 832.1C804.7 836.8 852 844.8 872.3 847.3" stroke="url(#g48)" stroke-width="12"/>
<path d="M-15 891.4C11.2 886.2 107.3 866.9 142 860C176.6 853.1 167.3 853.7 192.7 849.9C218 846.1 260.3 840.2 294.1 837.2C327.9 834.2 361.7 832.7 395.6 832.1C429.4 831.5 463.2 832.4 497 833.6C530.8 834.9 556.2 837 598.4 839.7C640.7 842.4 705 845.6 750.6 849.9C796.3 854.1 852 862.6 872.3 865.1" stroke="url(#g49)" stroke-width="12"/>
<path d="M-15 909.2C11.2 903.9 107.3 884.7 142 877.8C176.6 870.8 167.3 871.4 192.7 867.6C218 863.8 260.3 857.9 294.1 854.9C327.9 852 361.7 850.5 395.6 849.9C429.4 849.3 463.2 850.1 497 851.4C530.8 852.7 556.2 854.8 598.4 857.5C640.7 860.2 705 863.4 750.6 867.6C796.3 871.9 852 880.3 872.3 882.8" stroke="url(#g50)" stroke-width="12"/>
</g></g>
<rect x="1007.8" y="39" width="5" height="857.1" fill="#a0a0a0" opacity=".45"/>
<rect x="1012.9" y="39" width="5.8" height="857.1" fill="#484848"/>
<path d="M159.2 37.6H1018.7" stroke="#d6d6d6" stroke-width="2.7"/>
<path d="M160.5 38V897.2H1019.1" fill="none" stroke="#262626" stroke-width="2.4"/>
<path d="M162.2 897.1L162.2 910.9" stroke="#1a1a1a" stroke-width="2.4"/>
<text x="162.2" y="953.2" font-size="44.6" text-anchor="middle" fill="#1a1a1a">0</text>
<path d="M376.4 897.1L376.4 910.9" stroke="#1a1a1a" stroke-width="2.4"/>
<text x="376.4" y="953.2" font-size="44.6" text-anchor="middle" fill="#1a1a1a">0.5</text>
<path d="M590.6 897.1L590.6 910.9" stroke="#1a1a1a" stroke-width="2.4"/>
<text x="590.6" y="953.2" font-size="44.6" text-anchor="middle" fill="#1a1a1a">1</text>
<path d="M804.8 897.1L804.8 910.9" stroke="#1a1a1a" stroke-width="2.4"/>
<text x="804.8" y="953.2" font-size="44.6" text-anchor="middle" fill="#1a1a1a">1.5</text>
<path d="M1019 897.1L1019 910.9" stroke="#1a1a1a" stroke-width="2.4"/>
<text x="1019" y="953.2" font-size="44.6" text-anchor="middle" fill="#1a1a1a">2</text>
<path d="M148.5 40.3L160.2 40.3" stroke="#1a1a1a" stroke-width="2.4"/>
<text x="139" y="56.7" font-size="44.6" text-anchor="end" fill="#1a1a1a">0</text>
<path d="M148.5 211.6L160.2 211.6" stroke="#1a1a1a" stroke-width="2.4"/>
<text x="139" y="228" font-size="44.6" text-anchor="end" fill="#1a1a1a">12</text>
<path d="M148.5 382.8L160.2 382.8" stroke="#1a1a1a" stroke-width="2.4"/>
<text x="139" y="399.2" font-size="44.6" text-anchor="end" fill="#1a1a1a">24</text>
<path d="M148.5 554.1L160.2 554.1" stroke="#1a1a1a" stroke-width="2.4"/>
<text x="139" y="570.5" font-size="44.6" text-anchor="end" fill="#1a1a1a">36</text>
<path d="M148.5 725.3L160.2 725.3" stroke="#1a1a1a" stroke-width="2.4"/>
<text x="139" y="741.7" font-size="44.6" text-anchor="end" fill="#1a1a1a">48</text>
<path d="M148.5 896.6L160.2 896.6" stroke="#1a1a1a" stroke-width="2.4"/>
<text x="139" y="913" font-size="44.6" text-anchor="end" fill="#1a1a1a">60</text>
<text x="590.1" y="1011.6" font-size="50" text-anchor="middle" fill="#1a1a1a">Distance/m</text>
<text x="60.4" y="469" font-size="49.8" text-anchor="middle" fill="#1a1a1a" transform="rotate(-90 60.4 469)">Time/ns</text>
<clipPath id="cB"><rect x="1236.6" y="39" width="857.3" height="857.1"/></clipPath>
<g clip-path="url(#cB)">
<rect x="1236.6" y="39" width="857.3" height="857.1" fill="#808080"/>
<g filter="url(#bl)" fill="none" transform="translate(1236.6 39)">
<path d="M-15 509.3C10.8 506.4 87.5 498.7 140 492.4C192.5 486.1 273.3 474.9 300 471.5" stroke="url(#g51)" stroke-width="12"/>
<path d="M600 471.4C623.3 474.2 694.2 483.4 740 488C785.8 492.6 852.5 497.1 875 498.9" stroke="url(#g52)" stroke-width="12"/>
<path d="M-15 525C10.8 522.3 87.5 515.4 140 509.1C192.5 502.8 273.3 490.8 300 487.2" stroke="url(#g53)" stroke-width="12"/>
<path d="M600 489.8C623.3 491.8 694.2 496.9 740 501.5C785.8 506.1 852.5 514.7 875 517.3" stroke="url(#g54)" stroke-width="12"/>
<path d="M-15 541.1C10.8 538 87.5 529 140 522.7C192.5 516.4 273.3 506.5 300 503.3" stroke="url(#g55)" stroke-width="12"/>
<path d="M600 501.9C623.3 503.9 694.2 509.6 740 514.2C785.8 518.8 852.5 526.8 875 529.4" stroke="url(#g56)" stroke-width="12"/>
<path d="M-15 562.5C10.8 559.7 87.5 551.8 140 545.5C192.5 539.2 273.3 528.2 300 524.7" stroke="url(#g57)" stroke-width="12"/>
<path d="M600 524C623.3 526 694.2 531.2 740 535.8C785.8 540.4 852.5 548.9 875 551.5" stroke="url(#g58)" stroke-width="12"/>
<path d="M-15 575.2C10.8 571.6 87.5 559.9 140 553.6C192.5 547.3 273.3 540.1 300 537.4" stroke="url(#g59)" stroke-width="12"/>
<path d="M600 537.9C623.3 539.9 694.2 545.6 740 550.1C785.8 554.7 852.5 562.8 875 565.4" stroke="url(#g60)" stroke-width="12"/>
<path d="M-15 597C10.8 593.7 87.5 583.5 140 577.2C192.5 570.9 273.3 562.2 300 559.2" stroke="url(#g61)" stroke-width="12"/>
<path d="M600 557.2C623.3 559.7 694.2 567.7 740 572.3C785.8 576.9 852.5 582.7 875 584.7" stroke="url(#g62)" stroke-width="12"/>
<path d="M-15 614.8C10.8 611.9 87.5 603.7 140 597.4C192.5 591.1 273.3 580.4 300 577" stroke="url(#g63)" stroke-width="12"/>
<path d="M600 576.8C623.3 578.9 694.2 585 740 589.6C785.8 594.1 852.5 601.8 875 604.3" stroke="url(#g64)" stroke-width="12"/>
<path d="M-15 627.6C10.8 624.1 87.5 613.2 140 606.9C192.5 600.6 273.3 592.6 300 589.8" stroke="url(#g65)" stroke-width="12"/>
<path d="M600 590.6C623.3 593 694.2 600.6 740 605.2C785.8 609.8 852.5 616 875 618.1" stroke="url(#g66)" stroke-width="12"/>
<path d="M-15 648.1C10.8 644.8 87.5 634.8 140 628.5C192.5 622.2 273.3 613.3 300 610.3" stroke="url(#g67)" stroke-width="12"/>
<path d="M600 611.1C623.3 613.4 694.2 620.4 740 625C785.8 629.6 852.5 636.3 875 638.6" stroke="url(#g68)" stroke-width="12"/>
<path d="M-15 664.3C10.8 661.4 87.5 653.2 140 646.9C192.5 640.6 273.3 629.9 300 626.5" stroke="url(#g69)" stroke-width="12"/>
<path d="M600 629.5C623.3 631.3 694.2 636 740 640.6C785.8 645.2 852.5 654.2 875 657" stroke="url(#g70)" stroke-width="12"/>
<path d="M-15 683.9C10.8 680.3 87.5 668.7 140 662.4C192.5 656.1 273.3 648.8 300 646.1" stroke="url(#g71)" stroke-width="12"/>
<path d="M600 643.2C623.3 645.6 694.2 653.1 740 657.7C785.8 662.3 852.5 668.5 875 670.7" stroke="url(#g72)" stroke-width="12"/>
<path d="M-15 696.5C10.8 693.1 87.5 682.3 140 676C192.5 669.7 273.3 661.6 300 658.7" stroke="url(#g73)" stroke-width="12"/>
<path d="M600 659.6C623.3 662.2 694.2 670.5 740 675.1C785.8 679.7 852.5 685.1 875 687.1" stroke="url(#g74)" stroke-width="12"/>
<path d="M-15 719.3C10.8 716 87.5 706 140 699.7C192.5 693.4 273.3 684.5 300 681.5" stroke="url(#g75)" stroke-width="12"/>
<path d="M600 678.9C623.3 681.6 694.2 690 740 694.6C785.8 699.2 852.5 704.5 875 706.4" stroke="url(#g76)" stroke-width="12"/>
<path d="M-15 735.5C10.8 732.7 87.5 725 140 718.7C192.5 712.4 273.3 701.2 300 697.7" stroke="url(#g77)" stroke-width="12"/>
<path d="M600 693.4C623.3 696.2 694.2 705.5 740 710.1C785.8 714.7 852.5 719.1 875 720.9" stroke="url(#g78)" stroke-width="12"/>
<path d="M-15 750.4C10.8 747.5 87.5 738.8 140 732.5C192.5 726.2 273.3 716 300 712.6" stroke="url(#g79)" stroke-width="12"/>
<path d="M600 712.6C623.3 715.4 694.2 724.6 740 729.2C785.8 733.8 852.5 738.3 875 740.1" stroke="url(#g80)" stroke-width="12"/>
<path d="M-15 767.7C10.8 764.4 87.5 754.3 140 748C192.5 741.7 273.3 732.9 300 729.9" stroke="url(#g81)" stroke-width="12"/>
<path d="M600 728.5C623.3 730.5 694.2 735.8 740 740.4C785.8 744.9 852.5 753.4 875 756" stroke="url(#g82)" stroke-width="12"/>
<path d="M-15 789.2C10.8 785.7 87.5 774.8 140 768.5C192.5 762.2 273.3 754.2 300 751.4" stroke="url(#g83)" stroke-width="12"/>
<path d="M600 751.3C623.3 753.7 694.2 760.9 740 765.5C785.8 770.1 852.5 776.6 875 778.8" stroke="url(#g84)" stroke-width="12"/>
<path d="M-15 802C10.8 799 87.5 790.3 140 784C192.5 777.7 273.3 767.5 300 764.2" stroke="url(#g85)" stroke-width="12"/>
<path d="M600 765.5C623.3 767.8 694.2 774.5 740 779.1C785.8 783.6 852.5 790.7 875 793" stroke="url(#g86)" stroke-width="12"/>
<path d="M-15 823.5C10.8 819.9 87.5 808.4 140 802.1C192.5 795.8 273.3 788.4 300 785.7" stroke="url(#g87)" stroke-width="12"/>
<path d="M600 785.2C623.3 787.2 694.2 792.4 740 797C785.8 801.6 852.5 810.1 875 812.7" stroke="url(#g88)" stroke-width="12"/>
<path d="M-15 841.1C10.8 838.1 87.5 829.6 140 823.3C192.5 817 273.3 806.6 300 803.3" stroke="url(#g89)" stroke-width="12"/>
<path d="M600 798.2C623.3 800.5 694.2 807.3 740 811.8C785.8 816.4 852.5 823.4 875 825.7" stroke="url(#g90)" stroke-width="12"/>
<path d="M-15 857.9C10.8 854.6 87.5 844.3 140 838C192.5 831.7 273.3 823.1 300 820.1" stroke="url(#g91)" stroke-width="12"/>
<path d="M600 821C623.3 823.7 694.2 832.5 740 837.1C785.8 841.7 852.5 846.6 875 848.5" stroke="url(#g92)" stroke-width="12"/>
<path d="M-15 872.9C10.8 869.8 87.5 860.6 140 854.3C192.5 848 273.3 838.3 300 835.1" stroke="url(#g93)" stroke-width="12"/>
<path d="M600 835.3C623.3 837.4 694.2 843.4 740 848C785.8 852.6 852.5 860.3 875 862.8" stroke="url(#g94)" stroke-width="12"/>
<path d="M-15 888.5C10.8 885.3 87.5 875.4 140 869.1C192.5 862.8 273.3 853.8 300 850.7" stroke="url(#g95)" stroke-width="12"/>
<path d="M600 855.6C623.3 858 694.2 865.7 740 870.3C785.8 874.9 852.5 880.9 875 883.1" stroke="url(#g96)" stroke-width="12"/>
<path d="M640 247.4C660 249.5 720.8 255.7 760 259.6C799.2 263.6 855.8 269.1 875 270.9" stroke="url(#g97)" stroke-width="12"/>
<path d="M640 264.6C660 266.6 720.8 272.3 760 276.2C799.2 280.1 855.8 286.1 875 288.1" stroke="url(#g98)" stroke-width="12"/>
<path d="M640 286.8C660 288.4 720.8 292.6 760 296.5C799.2 300.4 855.8 308 875 310.3" stroke="url(#g99)" stroke-width="12"/>
<path d="M640 302.7C660 304.6 720.8 310.1 760 314C799.2 318 855.8 324.1 875 326.2" stroke="url(#g100)" stroke-width="12"/>
<path d="M640 318.3C660 320 720.8 324.3 760 328.2C799.2 332.1 855.8 339.6 875 341.8" stroke="url(#g101)" stroke-width="12"/>
<path d="M640 335.1C660 337.2 720.8 343.7 760 347.6C799.2 351.5 855.8 356.7 875 358.6" stroke="url(#g102)" stroke-width="12"/>
<path d="M640 351.8C660 353.3 720.8 357.2 760 361.1C799.2 365.1 855.8 372.9 875 375.3" stroke="url(#g103)" stroke-width="12"/>
<path d="M640 370.7C660 372.8 720.8 379.3 760 383.2C799.2 387.1 855.8 392.4 875 394.2" stroke="url(#g104)" stroke-width="12"/>
<path d="M640 390.4C660 392.1 720.8 396.9 760 400.9C799.2 404.8 855.8 411.7 875 413.9" stroke="url(#g105)" stroke-width="12"/>
<path d="M640 408C660 409.8 720.8 414.8 760 418.7C799.2 422.6 855.8 429.3 875 431.5" stroke="url(#g106)" stroke-width="12"/>
<path d="M640 425.5C660 427.2 720.8 431.5 760 435.5C799.2 439.4 855.8 446.8 875 449" stroke="url(#g107)" stroke-width="12"/>
<path d="M640 443C660 445.1 720.8 451.5 760 455.4C799.2 459.3 855.8 464.6 875 466.5" stroke="url(#g108)" stroke-width="12"/>
<path d="M640 459.4C660 461.4 720.8 467.9 760 471.8C799.2 475.8 855.8 481 875 482.9" stroke="url(#g109)" stroke-width="12"/>
<path d="M54 41.6C75.5 42.2 113.1 45.4 183.1 44.9C253 44.3 382.1 37.9 473.6 38.4C565 38.9 688.7 46.5 731.8 48.1" stroke="url(#g110)" stroke-width="20"/>
<path d="M-17.1 69.1C27.1 68.5 153.2 66.9 247.6 65.8C342 64.8 445 63.4 549.4 62.6C653.8 61.8 819.7 61.3 873.8 61" stroke="url(#g111)" stroke-width="12"/>
<path d="M-17.1 90C5.5 90.3 69 92.7 118.5 91.7C168 90.6 231.5 85.7 279.9 83.6C328.3 81.4 364.1 79.8 409 78.8C453.9 77.7 506.4 76.9 549.4 77.1C592.4 77.4 636.8 78.8 667.2 80.4C697.6 82 721 85.7 731.8 86.8" stroke="url(#g112)" stroke-width="12"/>
<path d="M86.2 109.4C97 108.9 123.9 108.1 150.8 106.2C177.7 104.3 215.3 100.3 247.6 98.1C279.9 96 312.2 94.2 344.4 93.3C376.7 92.4 414.4 92.4 441.3 92.6C468.2 92.9 479.5 93.4 505.8 94.9C532.2 96.3 575.8 99.7 599.4 101.3C623.1 103 634.4 103.2 647.8 104.6C661.3 105.9 674.7 108.6 680.1 109.4" stroke="url(#g113)" stroke-width="12"/>
<path d="M-17.1 120.7C-5.2 121 31.4 121.8 54 122.3C76.5 122.9 91.6 124.5 118.5 123.9C145.4 123.4 183.1 121.3 215.3 119.1C247.6 116.9 279.9 112.9 312.2 111C344.4 109.1 376.7 108.1 409 107.8C441.3 107.5 476.8 108.3 505.8 109.4C534.9 110.5 562.3 113.2 583.3 114.3C604.3 115.3 618.3 115.3 631.7 115.9C645.2 116.4 658.6 117.2 664 117.5" stroke="url(#g114)" stroke-width="12"/>
<path d="M-17.1 140.1C-5.2 140.1 31.4 139.8 54 140.1C76.5 140.3 97 142 118.5 141.7C140 141.4 161.5 140 183.1 138.5C204.6 137 226.1 134.5 247.6 132.7C269.1 130.8 285.3 128.9 312.2 127.2C339.1 125.4 376.7 122.6 409 122.3C441.3 122.1 476.8 124.4 505.8 125.6C534.9 126.7 559.6 128.6 583.3 129.4C607 130.2 629 130.5 647.8 130.4C666.7 130.3 680.1 129.3 696.3 128.8C712.4 128.2 728.5 127.7 744.7 127.2C760.8 126.6 777.5 126.6 793.1 125.6C808.7 124.5 824.8 122.6 838.3 120.7C851.7 118.8 867.9 115.3 873.8 114.3" stroke="url(#g115)" stroke-width="17.8"/>
<path d="M696.3 111C699 110.8 701.6 109.7 712.4 109.4C723.2 109.1 742 110 760.8 109.4C779.6 108.9 806.5 107.5 825.4 106.2C844.2 104.8 865.7 102.2 873.8 101.3" stroke="url(#g116)" stroke-width="12"/>
<path d="M-17.1 156.2C0.2 156.5 58.3 157.6 86.2 157.8C114.2 158.1 129.3 158.6 150.8 157.8C172.3 157 193.8 154.6 215.3 153C236.9 151.4 263.8 149.4 279.9 148.1C296 146.9 306.8 146 312.2 145.6" stroke="url(#g117)" stroke-width="12"/>
<path d="M-17.1 219.2C-5.2 217.5 31.4 212.7 54 209.5C76.5 206.2 97 203.3 118.5 199.8C140 196.3 161.5 192.5 183.1 188.5C204.6 184.5 228.8 179.3 247.6 175.6C266.4 171.8 279.9 169.1 296 165.9C312.2 162.7 328.3 159.4 344.4 156.2C360.6 153 376.7 148.7 392.9 146.5C409 144.4 422.4 143.8 441.3 143.3C460.1 142.8 484.8 143.5 505.8 143.3C526.8 143.1 546.2 142 567.2 142.3C588.1 142.7 612.9 143.8 631.7 145.6C650.5 147.3 664 150.4 680.1 153C696.3 155.6 715.1 158.9 728.5 161.1C742 163.2 750.1 164.6 760.8 165.9C771.6 167.2 787.7 168.6 793.1 169.1" stroke="url(#g118)" stroke-width="21.5"/>
<path d="M712.4 141.7C715.1 141.5 715.1 141 728.5 140.7C742 140.5 774.3 140.5 793.1 140.1C811.9 139.7 828.1 139 841.5 138.5C855 137.9 868.4 137.1 873.8 136.9" stroke="url(#g119)" stroke-width="12"/>
<path d="M-17.1 170.7C0.2 170.5 52.9 170.2 86.2 169.1C119.6 168.1 156.2 166.2 183.1 164.3C210 162.4 236.9 158.9 247.6 157.8" stroke="url(#g120)" stroke-width="12"/>
<path d="M-17.1 183.7C0.2 182.8 52.9 181.2 86.2 178.8C119.6 176.4 156.2 172.1 183.1 169.1C210 166.2 236.9 162.4 247.6 161.1" stroke="url(#g121)" stroke-width="12"/>
<path d="M-17.1 204.6C-5.2 203.3 26 200.3 54 196.6C81.9 192.8 118.5 186.9 150.8 182C183.1 177.2 226.1 170.7 247.6 167.5C269.1 164.3 274.5 163.5 279.9 162.7" stroke="url(#g122)" stroke-width="12"/>
<path d="M-17.1 232.1C0.2 230.2 52.9 224.8 86.2 220.8C119.6 216.7 156.2 211.6 183.1 207.9C210 204.1 228.8 201.7 247.6 198.2C266.4 194.7 282.6 189.6 296 186.9C309.5 184.2 317.5 183.4 328.3 182C339.1 180.7 352.5 179.6 360.6 178.8C368.7 178 374 177.5 376.7 177.2" stroke="url(#g123)" stroke-width="12"/>
<path d="M263.8 198.2C269.1 197.9 282.6 196.8 296 196.6C309.5 196.3 331 196.8 344.4 196.6C357.9 196.3 368.7 195.5 376.7 194.9C384.8 194.4 390.2 193.6 392.9 193.3" stroke="url(#g124)" stroke-width="12"/>
<path d="M247.6 209.5C253 208.9 263.8 207.1 279.9 206.2C296 205.4 328.3 205.2 344.4 204.6C360.6 204.1 368.7 203.4 376.7 203C384.8 202.6 390.2 202.5 392.9 202.4" stroke="url(#g125)" stroke-width="12"/>
<path d="M360.6 169.1C366 168.9 374 168 392.9 167.5C411.7 167 454.7 166.5 473.6 166.2C492.4 166 492.9 165.4 505.8 165.9C518.7 166.4 540.8 168.3 551 169.1C561.2 169.9 564.5 170.5 567.2 170.7" stroke="url(#g126)" stroke-width="16"/>
<path d="M551 165.9C556.4 166.1 572.5 166.1 583.3 166.9C594.1 167.7 610.2 170.1 615.6 170.7" stroke="url(#g127)" stroke-width="12"/>
<path d="M344.4 193.3C349.8 193 360.6 191.7 376.7 191.1C392.9 190.5 419.8 190.2 441.3 189.8C462.8 189.4 484.8 189.6 505.8 188.8C526.8 188.1 548.9 186.4 567.2 185.3C585.4 184.1 604.8 183.1 615.6 182C626.3 181 629 179.3 631.7 178.8" stroke="url(#g128)" stroke-width="14.4"/>
<path d="M615.6 165.9C618.3 166.2 623.6 166.7 631.7 167.5C639.8 168.3 650.5 169.1 664 170.7C677.4 172.4 696.3 175 712.4 177.2C728.5 179.3 744.7 182.1 760.8 183.7C777 185.2 790.4 186.5 809.2 186.2C828.1 186 863 182.7 873.8 182" stroke="url(#g129)" stroke-width="16.1"/>
<path d="M-17.1 254.7C0.2 253 52.9 248.2 86.2 245C119.6 241.8 150.8 238.3 183.1 235.3C215.3 232.3 255.7 229.5 279.9 227.2C304.1 224.9 317.5 222.8 328.3 221.4C339.1 220.1 341.8 219.5 344.4 219.2" stroke="url(#g130)" stroke-width="12"/>
<path d="M328.3 222.4C333.7 221.2 347.1 217.2 360.6 215.3C374 213.4 395.5 211.9 409 211.1C422.4 210.2 425.7 210.3 441.3 210.1C456.9 210 487 210.5 502.6 210.1C518.2 209.7 521.4 209 534.9 207.9C548.3 206.7 567.2 204.4 583.3 203C599.4 201.7 618.3 200.6 631.7 199.8C645.2 199 658.6 198.4 664 198.2" stroke="url(#g131)" stroke-width="25.5"/>
<path d="M647.8 185.3C653.2 186.1 666.7 188.2 680.1 190.1C693.6 192 712.4 194.4 728.5 196.6C744.7 198.7 760.8 201.7 777 203C793.1 204.4 809.2 205.2 825.4 204.6C841.5 204.1 865.7 200.6 873.8 199.8" stroke="url(#g132)" stroke-width="21.5"/>
<path d="M-17.1 299.8C0.2 297.2 58.3 287.7 86.2 283.7C114.2 279.7 132 278.3 150.8 275.6C169.6 273 183.1 270.5 199.2 267.6C215.3 264.6 231.5 260.8 247.6 257.9C263.8 254.9 279.9 252.5 296 249.8C312.2 247.1 328.3 243.9 344.4 241.8C360.6 239.6 376.7 238 392.9 236.9C409 235.8 423 235.6 441.3 235.3C459.6 235 484.3 236.1 502.6 235.3C520.9 234.5 534.9 232.3 551 230.5C567.2 228.6 583.3 225.3 599.4 224C615.6 222.7 631.7 222.1 647.8 222.4C664 222.7 677.4 224.5 696.3 225.6C715.1 226.7 739.3 228.3 760.8 228.8C782.3 229.4 806.5 229.1 825.4 228.8C844.2 228.6 865.7 227.5 873.8 227.2" stroke="url(#g133)" stroke-width="21.5"/>
<path d="M-17.1 316C0.2 314.4 58.3 309.8 86.2 306.3C114.2 302.8 129.3 299 150.8 295C172.3 291 193.8 285.9 215.3 282.1C236.9 278.3 258.4 275.6 279.9 272.4C301.4 269.2 325.6 265.4 344.4 262.7C363.3 260 376.7 257.7 392.9 256.3C409 254.9 423 254.6 441.3 254.3C459.6 254.1 487 254.6 502.6 254.7C518.2 254.7 521.4 255.7 534.9 254.7C548.3 253.6 567.2 249.8 583.3 248.2C599.4 246.6 615.6 244.4 631.7 245C647.8 245.5 664 249.9 680.1 251.4C696.3 252.9 712.4 253.7 728.5 254C744.7 254.3 763.5 253.5 777 253C790.4 252.6 793.1 249 809.2 251.4C825.4 253.9 863 264.9 873.8 267.6" stroke="url(#g134)" stroke-width="19.5"/>
<path d="M583.3 269.2C586 269.5 591.4 270.3 599.4 270.8C607.5 271.3 615.6 271.9 631.7 272.4C647.8 273 674.7 273.5 696.3 274C717.8 274.6 742 274 760.8 275.6C779.6 277.3 790.4 280.2 809.2 283.7C828.1 287.2 863 294.5 873.8 296.6" stroke="url(#g135)" stroke-width="12"/>
<path d="M341.2 271.4C344.4 271.3 343.9 271 360.6 270.8C377.3 270.6 420.3 270.2 441.3 270.2C462.3 270.2 478.9 270.7 486.5 270.8" stroke="url(#g136)" stroke-width="12"/>
<path d="M341.2 288.9C343.4 288.8 345.5 288.4 354.1 288.2C362.7 288 378.3 287.8 392.9 287.6C407.4 287.4 427.8 287.3 441.3 286.9C454.7 286.6 463.1 285.9 473.6 285.3C484 284.8 499.1 284 504.2 283.7" stroke="url(#g137)" stroke-width="16.1"/>
<path d="M-17.1 351.5C-5.2 351 26 349.9 54 348.3C81.9 346.6 123.9 344 150.8 341.8C177.7 339.7 193.8 338 215.3 335.4C236.9 332.7 261.1 328.9 279.9 325.7C298.7 322.4 314.9 318.1 328.3 316C341.8 313.8 341.8 313.6 360.6 312.8C379.4 312 422.4 311.6 441.3 311.1C460.1 310.7 460.6 310.7 473.6 310.2C486.5 309.6 505.8 309.2 518.7 307.9C531.7 306.6 540.3 305.1 551 302.4C561.8 299.7 577.9 293.6 583.3 291.8" stroke="url(#g138)" stroke-width="19.5"/>
<path d="M-17.1 393.5C0.2 391 60.9 383.2 86.2 378.9C111.5 374.6 118.5 370.3 134.6 367.6C150.8 364.9 164.2 365.2 183.1 362.8C201.9 360.4 226.1 356.9 247.6 353.1C269.1 349.3 296 342.9 312.2 340.2C328.3 337.5 322.9 337.8 344.4 337C366 336.2 419.8 335.6 441.3 335.4C462.8 335.1 458 335.6 473.6 335.4C489.2 335.1 519.3 334.5 534.9 333.7C550.5 332.9 559.1 331.7 567.2 330.5C575.2 329.3 580.6 327 583.3 326.3" stroke="url(#g139)" stroke-width="21.5"/>
<path d="M599.4 298.2C602.1 298.5 599.4 298.5 615.6 299.8C631.7 301.2 666.7 303.6 696.3 306.3C725.8 309 763.5 313.3 793.1 316C822.7 318.7 860.3 321.4 873.8 322.4" stroke="url(#g140)" stroke-width="12"/>
<path d="M615.6 334.7C618.3 334.8 620.9 335 631.7 335.4C642.5 335.7 661.3 335.9 680.1 337C699 338 723.2 339.9 744.7 341.8C766.2 343.7 787.7 345.6 809.2 348.3C830.7 351 863 356.3 873.8 357.9" stroke="url(#g141)" stroke-width="12"/>
<path d="M615.6 349.9C618.3 350.1 618.3 350.4 631.7 351.5C645.2 352.6 674.7 354.4 696.3 356.3C717.8 358.2 739.3 360.4 760.8 362.8C782.3 365.2 806.5 368.2 825.4 370.9C844.2 373.5 865.7 377.6 873.8 378.9" stroke="url(#g142)" stroke-width="12"/>
<path d="M-17.1 416C0.2 413.4 58.3 404.6 86.2 399.9C114.2 395.2 123.9 391.1 150.8 387.6C177.7 384.1 220.7 382.3 247.6 378.9C274.5 375.6 298.7 370.6 312.2 367.6C325.6 364.7 317.5 362.8 328.3 361.2C339.1 359.6 357.9 358.6 376.7 357.9C395.5 357.3 420.3 357 441.3 357.3C462.3 357.6 481.6 358.6 502.6 359.6C523.6 360.5 551 361.7 567.2 362.8C583.3 363.9 591.4 364.9 599.4 366C607.5 367.1 612.9 368.7 615.6 369.2" stroke="url(#g143)" stroke-width="19.5"/>
<path d="M-17.1 435.4C0.2 432.7 52.9 424.7 86.2 419.3C119.6 413.9 150.8 407.4 183.1 403.1C215.3 398.8 253 397.2 279.9 393.5C306.8 389.7 331 383.5 344.4 380.5C357.9 377.6 347.7 376.8 360.6 375.7C373.5 374.6 403.6 373.7 421.9 374.1C440.2 374.5 451.5 376.7 470.3 378.3C489.2 379.9 516 382.3 534.9 383.8C553.7 385.2 569.8 386.2 583.3 387C596.7 387.8 610.2 388.3 615.6 388.6" stroke="url(#g144)" stroke-width="19.5"/>
<path d="M615.6 370.2C618.3 370.3 618.3 369.9 631.7 370.9C645.2 371.8 669.4 373 696.3 375.7C723.2 378.4 763.5 383.5 793.1 387C822.7 390.5 860.3 395.1 873.8 396.7" stroke="url(#g145)" stroke-width="12"/>
<path d="M360.6 391.8C366 391.7 379.4 391 392.9 390.9C406.3 390.7 427.8 390.7 441.3 390.9C454.7 391 468.2 391.7 473.6 391.8" stroke="url(#g146)" stroke-width="12"/>
<path d="M328.3 411.2C331 410.9 333.7 410.1 344.4 409.6C355.2 409.1 376.7 408.1 392.9 408C409 407.9 427.8 408.1 441.3 408.9C454.7 409.8 465.5 411.9 473.6 412.8C481.6 413.7 487 414.2 489.7 414.4" stroke="url(#g147)" stroke-width="19.5"/>
<path d="M486.5 413.5C489.2 413.4 483.8 413.5 502.6 412.8C521.4 412.2 567.2 409.6 599.4 409.6C631.7 409.6 674.7 412 696.3 412.8C717.8 413.6 723.2 414.2 728.5 414.4" stroke="url(#g148)" stroke-width="12"/>
<path d="M-17.1 332.1C0.2 330.8 52.9 326.7 86.2 324.1C119.6 321.4 156.2 318.4 183.1 316C210 313.6 236.9 310.6 247.6 309.5" stroke="url(#g149)" stroke-width="12"/>
<path d="M-17.1 370.9C-5.2 370.3 31.4 369.8 54 367.6C76.5 365.5 102.4 360.4 118.5 357.9C134.6 355.5 145.4 353.9 150.8 353.1" stroke="url(#g150)" stroke-width="12"/>
<path d="M296 437.1C298.7 436.9 301.4 436.6 312.2 435.5C322.9 434.4 344.4 431.8 360.6 430.7C376.7 429.6 390.2 429.3 409 429.1C427.8 428.8 456.3 428.5 473.6 429.1C490.8 429.6 499.6 431.2 512.3 432.3C524.9 433.4 534.8 434.4 549.4 435.5C564 436.6 591.5 438.2 599.9 438.8" stroke="url(#g151)" stroke-width="19.5"/>
<path d="M279.9 454.9C282.6 454.6 285.3 454 296 453.3C306.8 452.6 325.6 451.3 344.4 450.7C363.3 450 384.8 449.5 409 449.4C433.2 449.3 469.2 449.7 489.7 450C510.1 450.4 521.7 451.2 531.7 451.7C541.6 452.1 544.5 452.4 549.4 452.6C554.3 452.9 559.2 453.2 561.2 453.3" stroke="url(#g152)" stroke-width="21.5"/>
<path d="M279.9 474.3C282.6 474 288 473.3 296 472.6C304.1 471.9 309.5 470.7 328.3 470.1C347.1 469.4 382.1 468.9 409 468.8C435.9 468.7 470.9 468.8 489.7 469.4C508.5 470.1 512 472.1 522 472.6C531.9 473.2 541.8 472.4 549.4 472.6C557 472.9 564.6 474 567.6 474.3" stroke="url(#g153)" stroke-width="19.5"/>
<path d="M296 488.8C298.7 488.5 301.4 487.8 312.2 487.2C322.9 486.5 344.4 485.4 360.6 484.9C376.7 484.4 390.2 484.1 409 483.9C427.8 483.8 457.4 483.7 473.6 483.9C489.7 484.2 493.2 485 505.8 485.6C518.5 486.1 540.2 486.7 549.4 487.2C558.6 487.6 559.2 488 561.2 488.1" stroke="url(#g154)" stroke-width="19.5"/>
<path d="M263.8 506.5C266.4 506.3 271.8 505.7 279.9 504.9C288 504.1 296 502.5 312.2 501.7C328.3 500.9 355.2 500.5 376.7 500.1C398.2 499.7 419.8 499.4 441.3 499.4C462.8 499.4 487.8 499.7 505.8 500.1C523.9 500.5 536.4 501.2 549.4 501.7C562.4 502.2 578 503 583.7 503.3" stroke="url(#g155)" stroke-width="19.5"/>
<path d="M247.6 522.7C250.3 522.4 253 521.8 263.8 521.1C274.5 520.4 293.3 519.1 312.2 518.5C331 517.8 355.2 517.5 376.7 517.2C398.2 516.9 419.8 516.9 441.3 516.9C462.8 516.9 487.8 517 505.8 517.2C523.9 517.3 539.1 517.7 549.4 517.8C559.7 517.9 560.3 517.6 567.6 517.8C574.9 518.1 589.1 519.2 593.4 519.4" stroke="url(#g156)" stroke-width="21.5"/>
<path d="M263.8 543.7C266.4 543.4 271.8 542.8 279.9 542C288 541.2 296 539.7 312.2 538.8C328.3 537.9 355.2 537.1 376.7 536.6C398.2 536 419.8 535.6 441.3 535.6C462.8 535.5 487.8 536 505.8 536.2C523.9 536.5 539.1 536.9 549.4 537.2C559.7 537.5 559.2 537.3 567.6 537.8C576 538.4 594.5 540 599.9 540.4" stroke="url(#g157)" stroke-width="19.5"/>
<path d="M263.8 561.4C266.4 561.1 266.4 560.5 279.9 559.8C293.3 559.1 322.9 557.9 344.4 557.2C366 556.6 390.2 556.1 409 555.9C427.8 555.7 441.3 555.7 457.4 555.9C473.6 556.1 490.5 556.7 505.8 557.2C521.2 557.7 536.4 558.4 549.4 559.1C562.4 559.8 572.6 560.8 583.7 561.4C594.8 562 610.6 562.7 616 563" stroke="url(#g158)" stroke-width="19.5"/>
<path d="M247.6 575.3C250.3 575.1 247.6 574.7 263.8 574.3C279.9 573.9 320.2 573.2 344.4 572.7C368.7 572.2 387.5 571.2 409 571.1C430.5 571 450.2 571.7 473.6 572.1C497 572.4 533.7 572.7 549.4 573.3C565.1 574 559.2 575.2 567.6 575.9C576 576.6 594.5 577.3 599.9 577.5" stroke="url(#g159)" stroke-width="12"/>
<path d="M247.6 589.5C250.3 589.4 247.6 589.2 263.8 588.8C279.9 588.5 320.2 587.3 344.4 587.2C368.7 587.1 387.5 587.9 409 588.2C430.5 588.5 450.2 588.8 473.6 588.8C497 588.8 531 587.9 549.4 588.2C567.8 588.5 572.6 589.8 583.7 590.5C594.8 591.1 610.6 591.8 616 592.1" stroke="url(#g160)" stroke-width="12"/>
<path d="M247.6 609.2C250.3 609 247.6 608.6 263.8 608.2C279.9 607.8 320.2 606.6 344.4 606.6C368.7 606.6 387.5 608.4 409 608.2C430.5 608 450.2 605.7 473.6 605.6C497 605.5 531 607.7 549.4 607.6C567.8 607.5 572.6 604.9 583.7 605C594.8 605.1 610.6 607.7 616 608.2" stroke="url(#g161)" stroke-width="12"/>
<path d="M247.6 625.3C250.3 625.2 247.6 624.8 263.8 624.3C279.9 623.9 320.2 622.7 344.4 622.7C368.7 622.7 387.5 624.2 409 624.3C430.5 624.5 450.2 623.8 473.6 623.7C497 623.6 533.7 623.7 549.4 623.7C565.1 623.7 556.5 623.1 567.6 623.7C578.7 624.3 608 626.9 616 627.6" stroke="url(#g162)" stroke-width="12"/>
<path d="M263.8 644.7C266.4 644.5 266.4 644.1 279.9 643.7C293.3 643.3 322.9 642.2 344.4 642.1C366 642 387.5 642.8 409 643.1C430.5 643.3 450.2 643.7 473.6 643.7C497 643.7 528.3 642.5 549.4 643.1C570.5 643.6 586.1 646 599.9 646.9C613.7 647.9 626.8 648.3 632.2 648.6" stroke="url(#g163)" stroke-width="12"/>
<path d="M231.5 662.4C234.2 662.3 236.9 661.8 247.6 661.5C258.4 661.1 277.2 660.7 296 660.5C314.9 660.3 339.1 660.3 360.6 660.5C382.1 660.7 406.3 661 425.1 661.5C444 661.9 452.8 663.2 473.6 663.1C494.3 662.9 531 660.8 549.4 660.5C567.8 660.2 570 661 583.7 661.5C597.5 661.9 624.1 662.8 632.2 663.1" stroke="url(#g164)" stroke-width="12"/>
<path d="M150.8 692.1C156.2 691.6 166.9 690.2 183.1 688.9C199.2 687.6 226.1 685.7 247.6 684.1C269.1 682.4 290.7 680.1 312.2 679.2C333.7 678.3 349.8 678.6 376.7 678.6C403.6 678.6 444.8 679.1 473.6 679.2C502.3 679.3 533.7 678.9 549.4 679.2C565.1 679.5 553.8 680.3 567.6 680.8C581.4 681.4 616 681.9 632.2 682.4C648.3 683 659.1 683.8 664.4 684.1" stroke="url(#g165)" stroke-width="12"/>
<path d="M150.8 713.1C153.5 712.8 156.2 712.3 166.9 711.5C177.7 710.7 196.5 709.9 215.3 708.3C234.2 706.6 263.8 703.4 279.9 701.8C296 700.2 296 699.4 312.2 698.6C328.3 697.8 357.9 697.1 376.7 697C395.5 696.9 409 697.8 425.1 697.9C441.3 698.1 452.8 697.9 473.6 697.9C494.3 697.9 533.7 698.4 549.4 697.9C565.1 697.5 553.8 695.5 567.6 695.4C581.4 695.2 610.6 695.4 632.2 697C653.7 698.6 669.8 702.1 696.7 705C723.6 708 766.6 712.6 793.5 714.7C820.4 716.9 847.3 717.4 858.1 717.9" stroke="url(#g166)" stroke-width="18.1"/>
<path d="M263.8 726C266.4 725.7 269.1 725.2 279.9 724.4C290.7 723.6 306.8 722 328.3 721.2C349.8 720.4 384.8 719.8 409 719.6C433.2 719.3 450.2 719.3 473.6 719.6C497 719.8 533.7 721.2 549.4 721.2C565.1 721.2 553.8 719.6 567.6 719.6C581.4 719.6 605.3 719.3 632.2 721.2C659.1 723.1 691.3 727.1 729 730.9C766.6 734.6 836.6 741.6 858.1 743.8" stroke="url(#g167)" stroke-width="12"/>
<path d="M328.3 744.7C331 744.6 331 744.2 344.4 743.8C357.9 743.3 387.5 742.2 409 742.2C430.5 742.2 454.7 743.2 473.6 743.8C492.4 744.3 509.3 745.1 522 745.4C534.6 745.7 541.8 745.4 549.4 745.4C557 745.4 559.2 745.2 567.6 745.4C576 745.5 594.5 746.2 599.9 746.4" stroke="url(#g168)" stroke-width="12"/>
<path d="M215.3 790.6C220.7 790.3 231.5 789.8 247.6 789C263.8 788.1 290.7 786 312.2 785.7C333.7 785.5 355.2 787.9 376.7 787.3C398.2 786.8 412.5 784.3 441.3 782.5C470.1 780.7 528.3 777.8 549.4 776.7C570.5 775.6 548.4 776.2 567.6 776C586.8 775.9 642.9 775.8 664.4 776C686 776.3 691.3 777.4 696.7 777.7" stroke="url(#g169)" stroke-width="12"/>
<path d="M215.3 814.8C218 814.5 220.7 813.7 231.5 813.2C242.2 812.6 261.1 812.6 279.9 811.5C298.7 810.5 322.9 807.8 344.4 806.7C366 805.6 387.5 805.9 409 805.1C430.5 804.3 450.2 802.6 473.6 801.9C497 801.1 533.7 800.8 549.4 800.6C565.1 800.3 553.8 799.8 567.6 800.3C581.4 800.7 610.6 802.1 632.2 803.5C653.7 804.8 680.6 807 696.7 808.3C712.9 809.7 723.6 811 729 811.5" stroke="url(#g170)" stroke-width="14"/>
<path d="M215.3 838C218 837.9 215.3 837.5 231.5 837.4C247.6 837.3 282.6 836.8 312.2 837.4C341.8 837.9 382.1 841.1 409 840.6C435.9 840.1 450.2 836.7 473.6 834.1C497 831.6 533.7 826.7 549.4 825.1C565.1 823.5 548.4 824 567.6 824.5C586.8 824.9 642.9 826.9 664.4 827.7C686 828.5 691.3 829 696.7 829.3" stroke="url(#g171)" stroke-width="12"/>
<path d="M-17.1 445.2C-5.2 444.9 36.7 443.6 54 443.6C71.2 443.6 80.9 444.9 86.2 445.2" stroke="url(#g172)" stroke-width="12"/>
<path d="M-17.1 464.6C-5.2 464.3 36.7 463.5 54 463C71.2 462.4 72.8 462.7 86.2 461.3C99.7 460 126.6 456 134.6 454.9" stroke="url(#g173)" stroke-width="12"/>
<path d="M-17.1 487.2C-5.2 486.4 31.4 484.5 54 482.3C76.5 480.2 97 477.2 118.5 474.3C140 471.3 164.2 467.3 183.1 464.6C201.9 461.9 218 459.5 231.5 458.1C244.9 456.8 258.4 456.8 263.8 456.5" stroke="url(#g174)" stroke-width="12.8"/>
<path d="M-17.1 503.3C0.2 501.7 52.9 497.1 86.2 493.6C119.6 490.1 161.5 484.7 183.1 482.3C204.6 479.9 210 479.6 215.3 479.1" stroke="url(#g175)" stroke-width="12"/>
<path d="M-17.1 517.8C0.2 517.3 63.6 515.4 86.2 514.6C108.8 513.8 113.1 513.3 118.5 513" stroke="url(#g176)" stroke-width="12"/>
<path d="M-17.1 534C-5.2 533.7 31.4 533.7 54 532.4C76.5 531 102.4 527.5 118.5 525.9C134.6 524.3 145.4 523.2 150.8 522.7" stroke="url(#g177)" stroke-width="12"/>
<path d="M-17.1 556.6C-5.2 556 31.4 555.2 54 553.3C76.5 551.5 97 548.5 118.5 545.3C140 542 166.9 536.4 183.1 534C199.2 531.5 210 531.3 215.3 530.7" stroke="url(#g178)" stroke-width="12"/>
<path d="M-17.1 575.9C-5.2 575.4 31.4 574.9 54 572.7C76.5 570.5 97 567.1 118.5 563C140 559 164.2 551.7 183.1 548.5C201.9 545.3 218 544.7 231.5 543.7C244.9 542.6 258.4 542.3 263.8 542" stroke="url(#g179)" stroke-width="12"/>
<path d="M102.4 617.9C105.1 617.4 107.7 616.8 118.5 614.7C129.3 612.5 153.5 607.4 166.9 605C180.4 602.6 188.4 599.9 199.2 600.1C210 600.4 220.7 604.2 231.5 606.6C242.2 609 258.4 613.3 263.8 614.7" stroke="url(#g180)" stroke-width="12"/>
<path d="M70.1 648.6C72.8 648.3 72.8 648.8 86.2 646.9C99.7 645.1 132 640.5 150.8 637.3C169.6 634 185.8 628.6 199.2 627.6C212.6 626.5 226.1 630.3 231.5 630.8" stroke="url(#g181)" stroke-width="12"/>
<path d="M-17.1 782.5C0.2 779.3 52.9 768.5 86.2 763.1C119.6 757.8 156.2 753.5 183.1 750.2C210 747 236.9 744.8 247.6 743.8" stroke="url(#g182)" stroke-width="12"/>
<path d="M-17.1 801.9C0.2 798.6 52.9 787.9 86.2 782.5C119.6 777.1 156.2 772.8 183.1 769.6C210 766.4 236.9 764.2 247.6 763.1" stroke="url(#g183)" stroke-width="12"/>
<path d="M-17.1 850.3C0.2 847.1 52.9 836.3 86.2 830.9C119.6 825.5 161.5 820.7 183.1 818C204.6 815.3 210 815.3 215.3 814.8" stroke="url(#g184)" stroke-width="12"/>
<path d="M551.5 435.5C554.2 435.3 548.8 434.7 567.6 433.9C586.4 433.1 632.2 430.4 664.4 430.7C696.7 431 734.4 433.4 761.3 435.5C788.2 437.7 807.5 441.2 825.8 443.6C844.1 446 863.5 449 871 450" stroke="url(#g185)" stroke-width="12"/>
<path d="M535.3 452.3C538 452.2 535.3 452 551.5 451.7C567.6 451.3 602.6 449.8 632.2 450C661.7 450.3 707.5 452.5 729 453.3C750.5 454.1 755.9 454.6 761.3 454.9" stroke="url(#g186)" stroke-width="12"/>
<path d="M551.5 465.5C554.2 465.6 554.2 465.5 567.6 466.2C581.1 466.8 610.6 468.6 632.2 469.4C653.7 470.2 675.2 471 696.7 471C718.2 471 750.5 469.7 761.3 469.4" stroke="url(#g187)" stroke-width="12"/>
<path d="M551.5 481.7C554.2 481.8 554.2 481.9 567.6 482.3C581.1 482.7 610.6 483.1 632.2 483.9C653.7 484.7 669.8 485.8 696.7 487.2C723.6 488.5 777.4 491.2 793.5 492" stroke="url(#g188)" stroke-width="12"/>
<path d="M583.7 500.1C586.4 500.3 586.4 500.6 599.9 501.7C613.3 502.8 642.9 504.9 664.4 506.5C686 508.1 712.9 510.3 729 511.4C745.1 512.5 755.9 512.7 761.3 513" stroke="url(#g189)" stroke-width="12"/>
<path d="M712.9 517.2C715.5 517.3 715.5 517.5 729 517.8C742.4 518.2 769.9 518.9 793.5 519.4C817.2 520 858.1 520.8 871 521.1" stroke="url(#g190)" stroke-width="12"/>
<path d="M648.3 588.8C651 588.8 629.5 588.8 664.4 588.8C699.4 588.8 825.8 588.8 858.1 588.8" stroke="url(#g191)" stroke-width="12"/>
<path d="M648.3 611.4C651 611.4 629.5 611.4 664.4 611.4C699.4 611.4 825.8 611.4 858.1 611.4" stroke="url(#g192)" stroke-width="12"/>
<path d="M664.4 646.9C669.8 647.2 664.4 646.4 696.7 648.6C729 650.7 831.2 658 858.1 659.8" stroke="url(#g193)" stroke-width="12"/>
<path d="M664.4 676C669.8 676.5 664.4 676 696.7 679.2C729 682.4 831.2 692.7 858.1 695.4" stroke="url(#g194)" stroke-width="12"/>
</g></g>
<rect x="2091.1" y="39" width="2.8" height="857.1" fill="#b4b4b4"/>
<path d="M1235.6 37.6H2093.9" stroke="#d6d6d6" stroke-width="2.7"/>
<path d="M1236.9 38V897.2H2096.9" fill="none" stroke="#262626" stroke-width="2.4"/>
<path d="M1238.6 897.1L1238.6 910.9" stroke="#1a1a1a" stroke-width="2.4"/>
<text x="1238.6" y="953.2" font-size="44.6" text-anchor="middle" fill="#1a1a1a">0</text>
<path d="M1452.8 897.1L1452.8 910.9" stroke="#1a1a1a" stroke-width="2.4"/>
<text x="1452.8" y="953.2" font-size="44.6" text-anchor="middle" fill="#1a1a1a">0.5</text>
<path d="M1667 897.1L1667 910.9" stroke="#1a1a1a" stroke-width="2.4"/>
<text x="1667" y="953.2" font-size="44.6" text-anchor="middle" fill="#1a1a1a">1</text>
<path d="M1881.2 897.1L1881.2 910.9" stroke="#1a1a1a" stroke-width="2.4"/>
<text x="1881.2" y="953.2" font-size="44.6" text-anchor="middle" fill="#1a1a1a">1.5</text>
<path d="M2095.4 897.1L2095.4 910.9" stroke="#1a1a1a" stroke-width="2.4"/>
<text x="2095.4" y="953.2" font-size="44.6" text-anchor="middle" fill="#1a1a1a">2</text>
<path d="M1224.9 40.3L1236.6 40.3" stroke="#1a1a1a" stroke-width="2.4"/>
<text x="1215.4" y="56.7" font-size="44.6" text-anchor="end" fill="#1a1a1a">0</text>
<path d="M1224.9 211.6L1236.6 211.6" stroke="#1a1a1a" stroke-width="2.4"/>
<text x="1215.4" y="228" font-size="44.6" text-anchor="end" fill="#1a1a1a">12</text>
<path d="M1224.9 382.8L1236.6 382.8" stroke="#1a1a1a" stroke-width="2.4"/>
<text x="1215.4" y="399.2" font-size="44.6" text-anchor="end" fill="#1a1a1a">24</text>
<path d="M1224.9 554.1L1236.6 554.1" stroke="#1a1a1a" stroke-width="2.4"/>
<text x="1215.4" y="570.5" font-size="44.6" text-anchor="end" fill="#1a1a1a">36</text>
<path d="M1224.9 725.3L1236.6 725.3" stroke="#1a1a1a" stroke-width="2.4"/>
<text x="1215.4" y="741.7" font-size="44.6" text-anchor="end" fill="#1a1a1a">48</text>
<path d="M1224.9 896.6L1236.6 896.6" stroke="#1a1a1a" stroke-width="2.4"/>
<text x="1215.4" y="913" font-size="44.6" text-anchor="end" fill="#1a1a1a">60</text>
<text x="1666.5" y="1011.6" font-size="50" text-anchor="middle" fill="#1a1a1a">Distance/m</text>
<text x="1136.8" y="469" font-size="49.8" text-anchor="middle" fill="#1a1a1a" transform="rotate(-90 1136.8 469)">Time/ns</text>
<rect x="152.3" y="1176.7" width="858.2" height="428.1" fill="#1424ed"/>
<ellipse cx="581.2" cy="1361.6" rx="23.6" ry="33.4" fill="#ffff14"/>
<path d="M152 1176.7V1606.1H1011.1" fill="none" stroke="#6f7d7d" stroke-width="2.6"/>
<path d="M153.3 1604.8L153.3 1615.5" stroke="#4a4a4a" stroke-width="2.2"/>
<text x="153.3" y="1648.3" font-size="33.4" text-anchor="middle" fill="#1a1a1a">0</text>
<path d="M367.9 1604.8L367.9 1615.5" stroke="#4a4a4a" stroke-width="2.2"/>
<text x="367.9" y="1648.3" font-size="33.4" text-anchor="middle" fill="#1a1a1a">0.45</text>
<path d="M582.5 1604.8L582.5 1615.5" stroke="#4a4a4a" stroke-width="2.2"/>
<text x="582.5" y="1648.3" font-size="33.4" text-anchor="middle" fill="#1a1a1a">0.9</text>
<path d="M797.2 1604.8L797.2 1615.5" stroke="#4a4a4a" stroke-width="2.2"/>
<text x="797.2" y="1648.3" font-size="33.4" text-anchor="middle" fill="#1a1a1a">1.35</text>
<path d="M1011.8 1604.8L1011.8 1615.5" stroke="#4a4a4a" stroke-width="2.2"/>
<text x="1011.8" y="1648.3" font-size="33.4" text-anchor="middle" fill="#1a1a1a">1.8</text>
<path d="M142.8 1177.9L152.3 1177.9" stroke="#4a4a4a" stroke-width="2.2"/>
<text x="138.5" y="1190.2" font-size="33.4" text-anchor="end" fill="#1a1a1a">0</text>
<path d="M142.8 1390.6L152.3 1390.6" stroke="#4a4a4a" stroke-width="2.2"/>
<text x="138.5" y="1402.9" font-size="33.4" text-anchor="end" fill="#1a1a1a">0.35</text>
<path d="M142.8 1603.3L152.3 1603.3" stroke="#4a4a4a" stroke-width="2.2"/>
<text x="138.5" y="1615.6" font-size="33.4" text-anchor="end" fill="#1a1a1a">0.7</text>
<text x="582.2" y="1691.7" font-size="37.7" text-anchor="middle" fill="#1a1a1a">Distance/m</text>
<text x="49.7" y="1394.3" font-size="37.7" text-anchor="middle" fill="#1a1a1a" transform="rotate(-90 49.7 1394.3)">Depth/m</text>
<rect x="1228.9" y="1176.7" width="857.1" height="428.1" fill="#1424ed"/>
<ellipse cx="1657.5" cy="1400.3" rx="50.7" ry="62.8" fill="#68c898"/>
<ellipse cx="1657.8" cy="1362.2" rx="25.4" ry="35.2" fill="#ffff14" stroke="#1424ed" stroke-width="3.6"/>
<path d="M1228.6 1176.7V1606.1H2086.6" fill="none" stroke="#6f7d7d" stroke-width="2.6"/>
<path d="M1229.9 1604.8L1229.9 1615.5" stroke="#4a4a4a" stroke-width="2.2"/>
<text x="1229.9" y="1648.3" font-size="33.4" text-anchor="middle" fill="#1a1a1a">0</text>
<path d="M1444.2 1604.8L1444.2 1615.5" stroke="#4a4a4a" stroke-width="2.2"/>
<text x="1444.2" y="1648.3" font-size="33.4" text-anchor="middle" fill="#1a1a1a">0.45</text>
<path d="M1658.6 1604.8L1658.6 1615.5" stroke="#4a4a4a" stroke-width="2.2"/>
<text x="1658.6" y="1648.3" font-size="33.4" text-anchor="middle" fill="#1a1a1a">0.9</text>
<path d="M1873 1604.8L1873 1615.5" stroke="#4a4a4a" stroke-width="2.2"/>
<text x="1873" y="1648.3" font-size="33.4" text-anchor="middle" fill="#1a1a1a">1.35</text>
<path d="M2087.3 1604.8L2087.3 1615.5" stroke="#4a4a4a" stroke-width="2.2"/>
<text x="2087.3" y="1648.3" font-size="33.4" text-anchor="middle" fill="#1a1a1a">1.8</text>
<path d="M1219.4 1177.9L1228.9 1177.9" stroke="#4a4a4a" stroke-width="2.2"/>
<text x="1215.1" y="1190.2" font-size="33.4" text-anchor="end" fill="#1a1a1a">0</text>
<path d="M1219.4 1390.6L1228.9 1390.6" stroke="#4a4a4a" stroke-width="2.2"/>
<text x="1215.1" y="1402.9" font-size="33.4" text-anchor="end" fill="#1a1a1a">0.35</text>
<path d="M1219.4 1603.3L1228.9 1603.3" stroke="#4a4a4a" stroke-width="2.2"/>
<text x="1215.1" y="1615.6" font-size="33.4" text-anchor="end" fill="#1a1a1a">0.7</text>
<text x="1658.2" y="1691.7" font-size="37.7" text-anchor="middle" fill="#1a1a1a">Distance/m</text>
<text x="1126.3" y="1394.3" font-size="37.7" text-anchor="middle" fill="#1a1a1a" transform="rotate(-90 1126.3 1394.3)">Depth/m</text>
<rect x="152.2" y="1861.8" width="860.1" height="428.6" fill="#1424ed"/>
<g filter="url(#b1)"><ellipse cx="560.5" cy="2080.5" rx="30" ry="18" fill="#2a60d8" opacity=".55"/><ellipse cx="560.5" cy="2080.5" rx="27.5" ry="16.3" fill="#5cc0a0"/><ellipse cx="560.5" cy="2080" rx="17.3" ry="13.4" fill="#1424ed" stroke="#e8ee20" stroke-width="5.6"/></g>
<path d="M151.9 1861.8V2291.7H1012.9" fill="none" stroke="#10186a" stroke-width="2.6"/>
<path d="M153.2 2290.4L153.2 2300.4" stroke="#222" stroke-width="1.6"/>
<text x="153.2" y="2334" font-size="33.4" text-anchor="middle" fill="#1a1a1a">0</text>
<path d="M368.3 2290.4L368.3 2300.4" stroke="#222" stroke-width="1.6"/>
<text x="368.3" y="2334" font-size="33.4" text-anchor="middle" fill="#1a1a1a">0.45</text>
<path d="M583.4 2290.4L583.4 2300.4" stroke="#222" stroke-width="1.6"/>
<text x="583.4" y="2334" font-size="33.4" text-anchor="middle" fill="#1a1a1a">0.9</text>
<path d="M798.5 2290.4L798.5 2300.4" stroke="#222" stroke-width="1.6"/>
<text x="798.5" y="2334" font-size="33.4" text-anchor="middle" fill="#1a1a1a">1.35</text>
<path d="M1013.6 2290.4L1013.6 2300.4" stroke="#222" stroke-width="1.6"/>
<text x="1013.6" y="2334" font-size="33.4" text-anchor="middle" fill="#1a1a1a">1.8</text>
<path d="M142.7 1863L152.2 1863" stroke="#222" stroke-width="1.6"/>
<text x="138.4" y="1875.3" font-size="33.4" text-anchor="end" fill="#1a1a1a">0</text>
<path d="M142.7 2075.9L152.2 2075.9" stroke="#222" stroke-width="1.6"/>
<text x="138.4" y="2088.2" font-size="33.4" text-anchor="end" fill="#1a1a1a">0.35</text>
<path d="M142.7 2288.9L152.2 2288.9" stroke="#222" stroke-width="1.6"/>
<text x="138.4" y="2301.2" font-size="33.4" text-anchor="end" fill="#1a1a1a">0.7</text>
<text x="583" y="2378.4" font-size="37.7" text-anchor="middle" fill="#1a1a1a">Distance/m</text>
<text x="49.6" y="2079.7" font-size="37.7" text-anchor="middle" fill="#1a1a1a" transform="rotate(-90 49.6 2079.7)">Depth/m</text>
<rect x="1228.2" y="1861.8" width="860.8" height="428.6" fill="#1424ed"/>
<g filter="url(#b1)"><path d="M1625.7 1999.0L1638.0 1996.7L1654.7 1999.0L1660.2 1998.4L1666.9 2000.1L1667.5 2016.8L1670.2 2026.8L1666.9 2034.6L1667.5 2048.0L1664.7 2064.7L1666.9 2081.4L1670.2 2103.6L1671.4 2131.5L1666.9 2142.6L1663.6 2152.6L1652.4 2159.3L1652.4 2170.4L1648.0 2181.6L1640.2 2183.8L1636.8 2180.5L1633.5 2178.2L1630.2 2186.0L1622.4 2188.3L1615.7 2179.4L1612.3 2168.2L1609.0 2159.3L1604.5 2148.2L1603.4 2131.5L1609.0 2119.2L1612.3 2120.3L1615.7 2131.5L1619.0 2125.9L1616.8 2103.6L1622.4 2086.9L1625.7 2076.9L1622.4 2070.2L1614.6 2066.9L1615.7 2061.3L1622.4 2054.6L1626.8 2042.4L1624.6 2032.4L1617.9 2023.5L1617.9 2013.4L1622.4 2006.7Z" fill="#68c898"/><path d="M1638.0 2027.9L1644.6 2035.7L1651.3 2033.5L1649.1 2048.0L1651.3 2058.0L1660.2 2068.0L1661.3 2088.0L1656.9 2098.1L1658.0 2125.9L1652.4 2143.7L1648.0 2152.6L1631.3 2153.7L1622.4 2143.7L1619.0 2123.7L1620.1 2101.4L1625.7 2090.3L1627.9 2081.4L1631.3 2059.1L1638.0 2058.0L1640.2 2048.0ZM1644.6 2002.3L1652.4 2002.3L1654.7 2009.0L1654.7 2025.7L1651.3 2032.4L1638.0 2030.1L1640.2 2009.0ZM1626.8 2011.8L1633.5 2011.8L1633.5 2019.6L1626.8 2019.6Z" fill="#f6f616"/><path d="M1639.1 2059.1L1648.0 2059.1L1651.3 2065.8L1652.4 2086.9L1654.7 2098.1L1654.7 2125.9L1651.3 2139.3L1648.0 2145.9L1638.0 2147.1L1631.3 2144.8L1626.8 2139.3L1624.6 2125.9L1625.7 2098.1L1627.9 2082.5L1638.0 2082.5L1640.2 2068.0ZM1641.3 2009.0L1650.2 2009.0L1650.2 2030.1L1645.7 2035.7L1641.3 2030.1ZM1627.9 2158.2L1636.8 2158.2L1636.8 2161.5L1627.9 2161.5Z" fill="#1424ed"/></g>
<path d="M1227.9 1861.8V2291.7H2089.6" fill="none" stroke="#10186a" stroke-width="2.6"/>
<path d="M1229.2 2290.4L1229.2 2300.4" stroke="#222" stroke-width="1.6"/>
<text x="1229.2" y="2334" font-size="33.4" text-anchor="middle" fill="#1a1a1a">0</text>
<path d="M1444.5 2290.4L1444.5 2300.4" stroke="#222" stroke-width="1.6"/>
<text x="1444.5" y="2334" font-size="33.4" text-anchor="middle" fill="#1a1a1a">0.45</text>
<path d="M1659.8 2290.4L1659.8 2300.4" stroke="#222" stroke-width="1.6"/>
<text x="1659.8" y="2334" font-size="33.4" text-anchor="middle" fill="#1a1a1a">0.9</text>
<path d="M1875 2290.4L1875 2300.4" stroke="#222" stroke-width="1.6"/>
<text x="1875" y="2334" font-size="33.4" text-anchor="middle" fill="#1a1a1a">1.35</text>
<path d="M2090.3 2290.4L2090.3 2300.4" stroke="#222" stroke-width="1.6"/>
<text x="2090.3" y="2334" font-size="33.4" text-anchor="middle" fill="#1a1a1a">1.8</text>
<path d="M1218.7 1863L1228.2 1863" stroke="#222" stroke-width="1.6"/>
<text x="1214.4" y="1875.3" font-size="33.4" text-anchor="end" fill="#1a1a1a">0</text>
<path d="M1218.7 2075.9L1228.2 2075.9" stroke="#222" stroke-width="1.6"/>
<text x="1214.4" y="2088.2" font-size="33.4" text-anchor="end" fill="#1a1a1a">0.35</text>
<path d="M1218.7 2288.9L1228.2 2288.9" stroke="#222" stroke-width="1.6"/>
<text x="1214.4" y="2301.2" font-size="33.4" text-anchor="end" fill="#1a1a1a">0.7</text>
<text x="1659.4" y="2378.4" font-size="37.7" text-anchor="middle" fill="#1a1a1a">Distance/m</text>
<text x="1125.6" y="2079.7" font-size="37.7" text-anchor="middle" fill="#1a1a1a" transform="rotate(-90 1125.6 2079.7)">Depth/m</text>
<text x="124.5" y="1102" font-size="51.5" text-anchor="start" fill="#1a1a1a" textLength="805" lengthAdjust="spacingAndGlyphs" class="s">(a) Leak free pipeline B-scan image 1</text>
<text x="1209" y="1102" font-size="51.5" text-anchor="start" fill="#1a1a1a" textLength="790.5" lengthAdjust="spacingAndGlyphs" class="s">(b) Leakage pipeline B-scan image 2</text>
<text x="78" y="1793.4" font-size="51.5" text-anchor="start" fill="#1a1a1a" textLength="901.5" lengthAdjust="spacingAndGlyphs" class="s">(c) Original model of leak free pipeline  1</text>
<text x="1160.3" y="1793.4" font-size="51.5" text-anchor="start" fill="#1a1a1a" textLength="890.5" lengthAdjust="spacingAndGlyphs" class="s">(d) Original model of leaking pipeline  2</text>
<text x="132.3" y="2477" font-size="59" text-anchor="start" fill="#1a1a1a" textLength="791.5" lengthAdjust="spacingAndGlyphs" class="s">(e) MSDNet++ inversion result 1</text>
<text x="1254" y="2475.5" font-size="51.5" text-anchor="start" fill="#1a1a1a" textLength="701.5" lengthAdjust="spacingAndGlyphs" class="s">(f) MSDNet++ inversion result 2</text>
<text x="1386.3" y="2586.2" font-size="51.5" text-anchor="start" fill="#1a1a1a" textLength="684" lengthAdjust="spacingAndGlyphs" class="s">Dielectric permittivity constant</text>
<rect x="81" y="2553" width="1253.5" height="25" fill="url(#cb)" stroke="#333" stroke-width="2"/>
<path d="M81.6 2578L81.6 2588.5" stroke="#333" stroke-width="1.8"/>
<text x="81.6" y="2621" font-size="28.5" text-anchor="middle" fill="#1a1a1a">0</text>
<path d="M390.7 2578L390.7 2588.5" stroke="#333" stroke-width="1.8"/>
<text x="390.7" y="2621" font-size="28.5" text-anchor="middle" fill="#1a1a1a">20</text>
<path d="M699.9 2578L699.9 2588.5" stroke="#333" stroke-width="1.8"/>
<text x="699.9" y="2621" font-size="28.5" text-anchor="middle" fill="#1a1a1a">40</text>
<path d="M1009 2578L1009 2588.5" stroke="#333" stroke-width="1.8"/>
<text x="1009" y="2621" font-size="28.5" text-anchor="middle" fill="#1a1a1a">60</text>
<path d="M1333.6 2578L1333.6 2588.5" stroke="#333" stroke-width="1.8"/>
<text x="1333.6" y="2621" font-size="28.5" text-anchor="middle" fill="#1a1a1a">81</text>
</svg>
</body></html>
